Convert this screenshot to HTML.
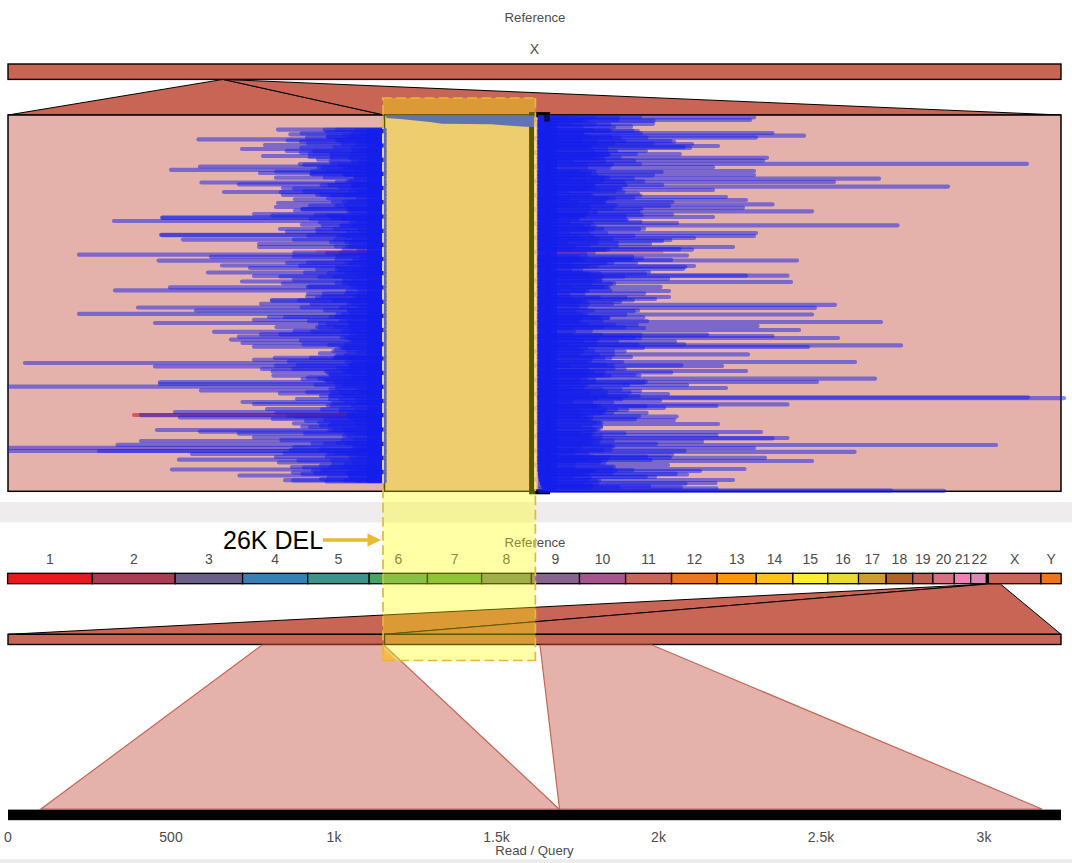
<!DOCTYPE html>
<html><head><meta charset="utf-8"><title>Ribbon - 26K DEL</title>
<style>
html,body{margin:0;padding:0;background:#fff;}
body{width:1072px;height:863px;overflow:hidden;font-family:"Liberation Sans",sans-serif;}
svg{display:block}
.t{font-family:"Liberation Sans",sans-serif;fill:#4c4c4c;text-anchor:middle}
.d{font-size:14px}
.w{font-size:13.2px}
</style></head><body>
<svg width="1072" height="863" viewBox="0 0 1072 863">
<rect width="1072" height="863" fill="#fff"/>
<rect x="0" y="502" width="1072" height="20.5" fill="#eeeced"/>
<rect x="0" y="859" width="1072" height="4" fill="#ececec"/>

<text x="535" y="22" class="t w">Reference</text>
<text x="534.5" y="53.8" class="t d">X</text>

<!-- top reference bar + zoom trapezoids -->
<polygon points="223,79.4 8,115 384,115" fill="#c96555" stroke="#000" stroke-width="1"/>
<polygon points="223,79.4 384,115 1061,115" fill="#c96555" stroke="#000" stroke-width="1"/>
<rect x="8" y="64" width="1053" height="15.4" fill="#c96555" stroke="#000" stroke-width="1.4"/>

<!-- plot boxes -->
<rect x="8" y="115" width="376.5" height="376.3" fill="#e4b2aa" stroke="#000" stroke-width="1.5"/>
<rect x="384.5" y="115" width="676.5" height="376.3" fill="#e4b2aa" stroke="#000" stroke-width="1.5"/>
<rect x="531.6" y="114.6" width="16" height="377.2" fill="none" stroke="#000" stroke-width="5"/>

<!-- reads -->
<g>
<line x1="356.5" x2="384.4" y1="130.0" y2="130.0" stroke="#141eeb" stroke-opacity="0.5" stroke-width="4.2" stroke-linecap="round"/>
<line x1="336.8" x2="384.4" y1="129.9" y2="129.9" stroke="#141eeb" stroke-opacity="0.5" stroke-width="4.2" stroke-linecap="round"/>
<line x1="324.7" x2="384.4" y1="129.9" y2="129.9" stroke="#141eeb" stroke-opacity="0.5" stroke-width="4.2" stroke-linecap="round"/>
<line x1="362.3" x2="384.4" y1="133.7" y2="133.7" stroke="#141eeb" stroke-opacity="0.5" stroke-width="4.2" stroke-linecap="round"/>
<line x1="353.0" x2="384.4" y1="133.3" y2="133.3" stroke="#141eeb" stroke-opacity="0.5" stroke-width="4.2" stroke-linecap="round"/>
<line x1="301.7" x2="384.4" y1="133.3" y2="133.3" stroke="#141eeb" stroke-opacity="0.5" stroke-width="4.2" stroke-linecap="round"/>
<line x1="290.4" x2="384.4" y1="134.3" y2="134.3" stroke="#141eeb" stroke-opacity="0.5" stroke-width="4.2" stroke-linecap="round"/>
<line x1="351.5" x2="384.4" y1="137.1" y2="137.1" stroke="#141eeb" stroke-opacity="0.5" stroke-width="4.2" stroke-linecap="round"/>
<line x1="327.7" x2="384.4" y1="136.7" y2="136.7" stroke="#141eeb" stroke-opacity="0.5" stroke-width="4.2" stroke-linecap="round"/>
<line x1="328.5" x2="384.4" y1="136.8" y2="136.8" stroke="#141eeb" stroke-opacity="0.5" stroke-width="4.2" stroke-linecap="round"/>
<line x1="307.0" x2="384.4" y1="137.6" y2="137.6" stroke="#141eeb" stroke-opacity="0.5" stroke-width="4.2" stroke-linecap="round"/>
<line x1="359.4" x2="384.4" y1="140.7" y2="140.7" stroke="#141eeb" stroke-opacity="0.5" stroke-width="4.2" stroke-linecap="round"/>
<line x1="337.1" x2="384.4" y1="140.4" y2="140.4" stroke="#141eeb" stroke-opacity="0.5" stroke-width="4.2" stroke-linecap="round"/>
<line x1="339.9" x2="384.4" y1="140.1" y2="140.1" stroke="#141eeb" stroke-opacity="0.5" stroke-width="4.2" stroke-linecap="round"/>
<line x1="287.6" x2="384.4" y1="140.5" y2="140.5" stroke="#141eeb" stroke-opacity="0.5" stroke-width="4.2" stroke-linecap="round"/>
<line x1="356.7" x2="384.4" y1="144.1" y2="144.1" stroke="#141eeb" stroke-opacity="0.5" stroke-width="4.2" stroke-linecap="round"/>
<line x1="342.3" x2="384.4" y1="143.8" y2="143.8" stroke="#141eeb" stroke-opacity="0.5" stroke-width="4.2" stroke-linecap="round"/>
<line x1="308.1" x2="384.4" y1="143.7" y2="143.7" stroke="#141eeb" stroke-opacity="0.5" stroke-width="4.2" stroke-linecap="round"/>
<line x1="352.5" x2="384.4" y1="147.9" y2="147.9" stroke="#141eeb" stroke-opacity="0.5" stroke-width="4.2" stroke-linecap="round"/>
<line x1="334.6" x2="384.4" y1="147.1" y2="147.1" stroke="#141eeb" stroke-opacity="0.5" stroke-width="4.2" stroke-linecap="round"/>
<line x1="301.3" x2="384.4" y1="147.7" y2="147.7" stroke="#141eeb" stroke-opacity="0.5" stroke-width="4.2" stroke-linecap="round"/>
<line x1="360.0" x2="384.4" y1="150.8" y2="150.8" stroke="#141eeb" stroke-opacity="0.5" stroke-width="4.2" stroke-linecap="round"/>
<line x1="353.9" x2="384.4" y1="151.0" y2="151.0" stroke="#141eeb" stroke-opacity="0.5" stroke-width="4.2" stroke-linecap="round"/>
<line x1="314.3" x2="384.4" y1="151.3" y2="151.3" stroke="#141eeb" stroke-opacity="0.5" stroke-width="4.2" stroke-linecap="round"/>
<line x1="286.8" x2="384.4" y1="150.9" y2="150.9" stroke="#141eeb" stroke-opacity="0.5" stroke-width="4.2" stroke-linecap="round"/>
<line x1="351.4" x2="384.4" y1="154.1" y2="154.1" stroke="#141eeb" stroke-opacity="0.5" stroke-width="4.2" stroke-linecap="round"/>
<line x1="331.5" x2="384.4" y1="154.7" y2="154.7" stroke="#141eeb" stroke-opacity="0.5" stroke-width="4.2" stroke-linecap="round"/>
<line x1="309.8" x2="384.4" y1="153.7" y2="153.7" stroke="#141eeb" stroke-opacity="0.5" stroke-width="4.2" stroke-linecap="round"/>
<line x1="350.1" x2="384.4" y1="158.2" y2="158.2" stroke="#141eeb" stroke-opacity="0.5" stroke-width="4.2" stroke-linecap="round"/>
<line x1="332.0" x2="384.4" y1="157.3" y2="157.3" stroke="#141eeb" stroke-opacity="0.5" stroke-width="4.2" stroke-linecap="round"/>
<line x1="309.6" x2="384.4" y1="157.0" y2="157.0" stroke="#141eeb" stroke-opacity="0.5" stroke-width="4.2" stroke-linecap="round"/>
<line x1="359.6" x2="384.4" y1="160.5" y2="160.5" stroke="#141eeb" stroke-opacity="0.5" stroke-width="4.2" stroke-linecap="round"/>
<line x1="353.3" x2="384.4" y1="161.3" y2="161.3" stroke="#141eeb" stroke-opacity="0.5" stroke-width="4.2" stroke-linecap="round"/>
<line x1="330.6" x2="384.4" y1="160.9" y2="160.9" stroke="#141eeb" stroke-opacity="0.5" stroke-width="4.2" stroke-linecap="round"/>
<line x1="361.4" x2="384.4" y1="164.3" y2="164.3" stroke="#141eeb" stroke-opacity="0.5" stroke-width="4.2" stroke-linecap="round"/>
<line x1="339.6" x2="384.4" y1="164.9" y2="164.9" stroke="#141eeb" stroke-opacity="0.5" stroke-width="4.2" stroke-linecap="round"/>
<line x1="299.8" x2="384.4" y1="164.1" y2="164.1" stroke="#141eeb" stroke-opacity="0.5" stroke-width="4.2" stroke-linecap="round"/>
<line x1="304.3" x2="384.4" y1="164.9" y2="164.9" stroke="#141eeb" stroke-opacity="0.5" stroke-width="4.2" stroke-linecap="round"/>
<line x1="343.8" x2="384.4" y1="167.4" y2="167.4" stroke="#141eeb" stroke-opacity="0.5" stroke-width="4.2" stroke-linecap="round"/>
<line x1="350.1" x2="384.4" y1="167.5" y2="167.5" stroke="#141eeb" stroke-opacity="0.5" stroke-width="4.2" stroke-linecap="round"/>
<line x1="318.8" x2="384.4" y1="167.9" y2="167.9" stroke="#141eeb" stroke-opacity="0.5" stroke-width="4.2" stroke-linecap="round"/>
<line x1="322.8" x2="384.4" y1="167.7" y2="167.7" stroke="#141eeb" stroke-opacity="0.5" stroke-width="4.2" stroke-linecap="round"/>
<line x1="355.6" x2="384.4" y1="171.3" y2="171.3" stroke="#141eeb" stroke-opacity="0.5" stroke-width="4.2" stroke-linecap="round"/>
<line x1="328.3" x2="384.4" y1="171.4" y2="171.4" stroke="#141eeb" stroke-opacity="0.5" stroke-width="4.2" stroke-linecap="round"/>
<line x1="312.1" x2="384.4" y1="171.4" y2="171.4" stroke="#141eeb" stroke-opacity="0.5" stroke-width="4.2" stroke-linecap="round"/>
<line x1="276.2" x2="384.4" y1="171.5" y2="171.5" stroke="#141eeb" stroke-opacity="0.5" stroke-width="4.2" stroke-linecap="round"/>
<line x1="345.5" x2="384.4" y1="175.0" y2="175.0" stroke="#141eeb" stroke-opacity="0.5" stroke-width="4.2" stroke-linecap="round"/>
<line x1="344.0" x2="384.4" y1="174.5" y2="174.5" stroke="#141eeb" stroke-opacity="0.5" stroke-width="4.2" stroke-linecap="round"/>
<line x1="311.3" x2="384.4" y1="174.1" y2="174.1" stroke="#141eeb" stroke-opacity="0.5" stroke-width="4.2" stroke-linecap="round"/>
<line x1="312.1" x2="384.4" y1="174.2" y2="174.2" stroke="#141eeb" stroke-opacity="0.5" stroke-width="4.2" stroke-linecap="round"/>
<line x1="356.2" x2="384.4" y1="177.5" y2="177.5" stroke="#141eeb" stroke-opacity="0.5" stroke-width="4.2" stroke-linecap="round"/>
<line x1="355.0" x2="384.4" y1="177.6" y2="177.6" stroke="#141eeb" stroke-opacity="0.5" stroke-width="4.2" stroke-linecap="round"/>
<line x1="324.8" x2="384.4" y1="177.4" y2="177.4" stroke="#141eeb" stroke-opacity="0.5" stroke-width="4.2" stroke-linecap="round"/>
<line x1="350.7" x2="384.4" y1="181.0" y2="181.0" stroke="#141eeb" stroke-opacity="0.5" stroke-width="4.2" stroke-linecap="round"/>
<line x1="347.9" x2="384.4" y1="181.2" y2="181.2" stroke="#141eeb" stroke-opacity="0.5" stroke-width="4.2" stroke-linecap="round"/>
<line x1="336.9" x2="384.4" y1="181.8" y2="181.8" stroke="#141eeb" stroke-opacity="0.5" stroke-width="4.2" stroke-linecap="round"/>
<line x1="353.7" x2="384.4" y1="184.8" y2="184.8" stroke="#141eeb" stroke-opacity="0.5" stroke-width="4.2" stroke-linecap="round"/>
<line x1="352.6" x2="384.4" y1="184.3" y2="184.3" stroke="#141eeb" stroke-opacity="0.5" stroke-width="4.2" stroke-linecap="round"/>
<line x1="329.8" x2="384.4" y1="185.2" y2="185.2" stroke="#141eeb" stroke-opacity="0.5" stroke-width="4.2" stroke-linecap="round"/>
<line x1="321.8" x2="384.4" y1="185.3" y2="185.3" stroke="#141eeb" stroke-opacity="0.5" stroke-width="4.2" stroke-linecap="round"/>
<line x1="352.4" x2="384.4" y1="187.8" y2="187.8" stroke="#141eeb" stroke-opacity="0.5" stroke-width="4.2" stroke-linecap="round"/>
<line x1="339.8" x2="384.4" y1="187.6" y2="187.6" stroke="#141eeb" stroke-opacity="0.5" stroke-width="4.2" stroke-linecap="round"/>
<line x1="294.1" x2="384.4" y1="188.6" y2="188.6" stroke="#141eeb" stroke-opacity="0.5" stroke-width="4.2" stroke-linecap="round"/>
<line x1="357.8" x2="384.4" y1="191.4" y2="191.4" stroke="#141eeb" stroke-opacity="0.5" stroke-width="4.2" stroke-linecap="round"/>
<line x1="350.3" x2="384.4" y1="191.9" y2="191.9" stroke="#141eeb" stroke-opacity="0.5" stroke-width="4.2" stroke-linecap="round"/>
<line x1="304.0" x2="384.4" y1="191.4" y2="191.4" stroke="#141eeb" stroke-opacity="0.5" stroke-width="4.2" stroke-linecap="round"/>
<line x1="280.8" x2="384.4" y1="192.2" y2="192.2" stroke="#141eeb" stroke-opacity="0.5" stroke-width="4.2" stroke-linecap="round"/>
<line x1="345.9" x2="384.4" y1="195.4" y2="195.4" stroke="#141eeb" stroke-opacity="0.5" stroke-width="4.2" stroke-linecap="round"/>
<line x1="332.1" x2="384.4" y1="195.3" y2="195.3" stroke="#141eeb" stroke-opacity="0.5" stroke-width="4.2" stroke-linecap="round"/>
<line x1="317.1" x2="384.4" y1="194.8" y2="194.8" stroke="#141eeb" stroke-opacity="0.5" stroke-width="4.2" stroke-linecap="round"/>
<line x1="321.5" x2="384.4" y1="194.7" y2="194.7" stroke="#141eeb" stroke-opacity="0.5" stroke-width="4.2" stroke-linecap="round"/>
<line x1="357.8" x2="384.4" y1="198.6" y2="198.6" stroke="#141eeb" stroke-opacity="0.5" stroke-width="4.2" stroke-linecap="round"/>
<line x1="328.2" x2="384.4" y1="198.3" y2="198.3" stroke="#141eeb" stroke-opacity="0.5" stroke-width="4.2" stroke-linecap="round"/>
<line x1="343.9" x2="384.4" y1="201.6" y2="201.6" stroke="#141eeb" stroke-opacity="0.5" stroke-width="4.2" stroke-linecap="round"/>
<line x1="348.8" x2="384.4" y1="201.5" y2="201.5" stroke="#141eeb" stroke-opacity="0.5" stroke-width="4.2" stroke-linecap="round"/>
<line x1="332.8" x2="384.4" y1="201.9" y2="201.9" stroke="#141eeb" stroke-opacity="0.5" stroke-width="4.2" stroke-linecap="round"/>
<line x1="346.2" x2="384.4" y1="205.2" y2="205.2" stroke="#141eeb" stroke-opacity="0.5" stroke-width="4.2" stroke-linecap="round"/>
<line x1="336.7" x2="384.4" y1="205.6" y2="205.6" stroke="#141eeb" stroke-opacity="0.5" stroke-width="4.2" stroke-linecap="round"/>
<line x1="310.0" x2="384.4" y1="205.7" y2="205.7" stroke="#141eeb" stroke-opacity="0.5" stroke-width="4.2" stroke-linecap="round"/>
<line x1="348.0" x2="384.4" y1="208.6" y2="208.6" stroke="#141eeb" stroke-opacity="0.5" stroke-width="4.2" stroke-linecap="round"/>
<line x1="350.0" x2="384.4" y1="208.9" y2="208.9" stroke="#141eeb" stroke-opacity="0.5" stroke-width="4.2" stroke-linecap="round"/>
<line x1="303.0" x2="384.4" y1="209.2" y2="209.2" stroke="#141eeb" stroke-opacity="0.5" stroke-width="4.2" stroke-linecap="round"/>
<line x1="302.1" x2="384.4" y1="209.1" y2="209.1" stroke="#141eeb" stroke-opacity="0.5" stroke-width="4.2" stroke-linecap="round"/>
<line x1="348.5" x2="384.4" y1="211.6" y2="211.6" stroke="#141eeb" stroke-opacity="0.5" stroke-width="4.2" stroke-linecap="round"/>
<line x1="351.4" x2="384.4" y1="211.6" y2="211.6" stroke="#141eeb" stroke-opacity="0.5" stroke-width="4.2" stroke-linecap="round"/>
<line x1="360.1" x2="384.4" y1="215.8" y2="215.8" stroke="#141eeb" stroke-opacity="0.5" stroke-width="4.2" stroke-linecap="round"/>
<line x1="327.6" x2="384.4" y1="215.6" y2="215.6" stroke="#141eeb" stroke-opacity="0.5" stroke-width="4.2" stroke-linecap="round"/>
<line x1="315.6" x2="384.4" y1="215.0" y2="215.0" stroke="#141eeb" stroke-opacity="0.5" stroke-width="4.2" stroke-linecap="round"/>
<line x1="272.5" x2="384.4" y1="215.6" y2="215.6" stroke="#141eeb" stroke-opacity="0.5" stroke-width="4.2" stroke-linecap="round"/>
<line x1="352.5" x2="384.4" y1="219.3" y2="219.3" stroke="#141eeb" stroke-opacity="0.5" stroke-width="4.2" stroke-linecap="round"/>
<line x1="342.9" x2="384.4" y1="219.2" y2="219.2" stroke="#141eeb" stroke-opacity="0.5" stroke-width="4.2" stroke-linecap="round"/>
<line x1="332.4" x2="384.4" y1="218.5" y2="218.5" stroke="#141eeb" stroke-opacity="0.5" stroke-width="4.2" stroke-linecap="round"/>
<line x1="310.5" x2="384.4" y1="218.9" y2="218.9" stroke="#141eeb" stroke-opacity="0.5" stroke-width="4.2" stroke-linecap="round"/>
<line x1="357.8" x2="384.4" y1="222.1" y2="222.1" stroke="#141eeb" stroke-opacity="0.5" stroke-width="4.2" stroke-linecap="round"/>
<line x1="351.3" x2="384.4" y1="222.7" y2="222.7" stroke="#141eeb" stroke-opacity="0.5" stroke-width="4.2" stroke-linecap="round"/>
<line x1="320.1" x2="384.4" y1="222.3" y2="222.3" stroke="#141eeb" stroke-opacity="0.5" stroke-width="4.2" stroke-linecap="round"/>
<line x1="354.6" x2="384.4" y1="226.1" y2="226.1" stroke="#141eeb" stroke-opacity="0.5" stroke-width="4.2" stroke-linecap="round"/>
<line x1="341.0" x2="384.4" y1="225.6" y2="225.6" stroke="#141eeb" stroke-opacity="0.5" stroke-width="4.2" stroke-linecap="round"/>
<line x1="342.1" x2="384.4" y1="225.5" y2="225.5" stroke="#141eeb" stroke-opacity="0.5" stroke-width="4.2" stroke-linecap="round"/>
<line x1="322.8" x2="384.4" y1="226.0" y2="226.0" stroke="#141eeb" stroke-opacity="0.5" stroke-width="4.2" stroke-linecap="round"/>
<line x1="359.6" x2="384.4" y1="229.0" y2="229.0" stroke="#141eeb" stroke-opacity="0.5" stroke-width="4.2" stroke-linecap="round"/>
<line x1="334.7" x2="384.4" y1="229.1" y2="229.1" stroke="#141eeb" stroke-opacity="0.5" stroke-width="4.2" stroke-linecap="round"/>
<line x1="317.1" x2="384.4" y1="229.1" y2="229.1" stroke="#141eeb" stroke-opacity="0.5" stroke-width="4.2" stroke-linecap="round"/>
<line x1="360.9" x2="384.4" y1="232.5" y2="232.5" stroke="#141eeb" stroke-opacity="0.5" stroke-width="4.2" stroke-linecap="round"/>
<line x1="348.0" x2="384.4" y1="232.1" y2="232.1" stroke="#141eeb" stroke-opacity="0.5" stroke-width="4.2" stroke-linecap="round"/>
<line x1="317.6" x2="384.4" y1="232.5" y2="232.5" stroke="#141eeb" stroke-opacity="0.5" stroke-width="4.2" stroke-linecap="round"/>
<line x1="344.8" x2="384.4" y1="235.7" y2="235.7" stroke="#141eeb" stroke-opacity="0.5" stroke-width="4.2" stroke-linecap="round"/>
<line x1="337.8" x2="384.4" y1="235.8" y2="235.8" stroke="#141eeb" stroke-opacity="0.5" stroke-width="4.2" stroke-linecap="round"/>
<line x1="308.4" x2="384.4" y1="235.7" y2="235.7" stroke="#141eeb" stroke-opacity="0.5" stroke-width="4.2" stroke-linecap="round"/>
<line x1="353.4" x2="384.4" y1="239.7" y2="239.7" stroke="#141eeb" stroke-opacity="0.5" stroke-width="4.2" stroke-linecap="round"/>
<line x1="335.4" x2="384.4" y1="239.7" y2="239.7" stroke="#141eeb" stroke-opacity="0.5" stroke-width="4.2" stroke-linecap="round"/>
<line x1="293.9" x2="384.4" y1="239.7" y2="239.7" stroke="#141eeb" stroke-opacity="0.5" stroke-width="4.2" stroke-linecap="round"/>
<line x1="346.2" x2="384.4" y1="242.2" y2="242.2" stroke="#141eeb" stroke-opacity="0.5" stroke-width="4.2" stroke-linecap="round"/>
<line x1="351.6" x2="384.4" y1="242.5" y2="242.5" stroke="#141eeb" stroke-opacity="0.5" stroke-width="4.2" stroke-linecap="round"/>
<line x1="331.0" x2="384.4" y1="242.1" y2="242.1" stroke="#141eeb" stroke-opacity="0.5" stroke-width="4.2" stroke-linecap="round"/>
<line x1="347.3" x2="384.4" y1="246.5" y2="246.5" stroke="#141eeb" stroke-opacity="0.5" stroke-width="4.2" stroke-linecap="round"/>
<line x1="350.7" x2="384.4" y1="246.3" y2="246.3" stroke="#141eeb" stroke-opacity="0.5" stroke-width="4.2" stroke-linecap="round"/>
<line x1="335.9" x2="384.4" y1="246.5" y2="246.5" stroke="#141eeb" stroke-opacity="0.5" stroke-width="4.2" stroke-linecap="round"/>
<line x1="358.6" x2="384.4" y1="249.9" y2="249.9" stroke="#141eeb" stroke-opacity="0.5" stroke-width="4.2" stroke-linecap="round"/>
<line x1="343.8" x2="384.4" y1="249.4" y2="249.4" stroke="#141eeb" stroke-opacity="0.5" stroke-width="4.2" stroke-linecap="round"/>
<line x1="359.8" x2="384.4" y1="252.7" y2="252.7" stroke="#141eeb" stroke-opacity="0.5" stroke-width="4.2" stroke-linecap="round"/>
<line x1="340.6" x2="384.4" y1="252.6" y2="252.6" stroke="#141eeb" stroke-opacity="0.5" stroke-width="4.2" stroke-linecap="round"/>
<line x1="327.1" x2="384.4" y1="253.1" y2="253.1" stroke="#141eeb" stroke-opacity="0.5" stroke-width="4.2" stroke-linecap="round"/>
<line x1="294.2" x2="384.4" y1="252.7" y2="252.7" stroke="#141eeb" stroke-opacity="0.5" stroke-width="4.2" stroke-linecap="round"/>
<line x1="362.6" x2="384.4" y1="256.0" y2="256.0" stroke="#141eeb" stroke-opacity="0.5" stroke-width="4.2" stroke-linecap="round"/>
<line x1="337.5" x2="384.4" y1="256.2" y2="256.2" stroke="#141eeb" stroke-opacity="0.5" stroke-width="4.2" stroke-linecap="round"/>
<line x1="293.7" x2="384.4" y1="256.5" y2="256.5" stroke="#141eeb" stroke-opacity="0.5" stroke-width="4.2" stroke-linecap="round"/>
<line x1="360.9" x2="384.4" y1="259.3" y2="259.3" stroke="#141eeb" stroke-opacity="0.5" stroke-width="4.2" stroke-linecap="round"/>
<line x1="353.9" x2="384.4" y1="259.9" y2="259.9" stroke="#141eeb" stroke-opacity="0.5" stroke-width="4.2" stroke-linecap="round"/>
<line x1="336.5" x2="384.4" y1="259.5" y2="259.5" stroke="#141eeb" stroke-opacity="0.5" stroke-width="4.2" stroke-linecap="round"/>
<line x1="346.6" x2="384.4" y1="262.7" y2="262.7" stroke="#141eeb" stroke-opacity="0.5" stroke-width="4.2" stroke-linecap="round"/>
<line x1="350.8" x2="384.4" y1="263.5" y2="263.5" stroke="#141eeb" stroke-opacity="0.5" stroke-width="4.2" stroke-linecap="round"/>
<line x1="308.0" x2="384.4" y1="262.5" y2="262.5" stroke="#141eeb" stroke-opacity="0.5" stroke-width="4.2" stroke-linecap="round"/>
<line x1="287.2" x2="384.4" y1="262.9" y2="262.9" stroke="#141eeb" stroke-opacity="0.5" stroke-width="4.2" stroke-linecap="round"/>
<line x1="361.6" x2="384.4" y1="266.9" y2="266.9" stroke="#141eeb" stroke-opacity="0.5" stroke-width="4.2" stroke-linecap="round"/>
<line x1="337.2" x2="384.4" y1="266.8" y2="266.8" stroke="#141eeb" stroke-opacity="0.5" stroke-width="4.2" stroke-linecap="round"/>
<line x1="300.2" x2="384.4" y1="265.9" y2="265.9" stroke="#141eeb" stroke-opacity="0.5" stroke-width="4.2" stroke-linecap="round"/>
<line x1="353.9" x2="384.4" y1="269.6" y2="269.6" stroke="#141eeb" stroke-opacity="0.5" stroke-width="4.2" stroke-linecap="round"/>
<line x1="339.5" x2="384.4" y1="270.3" y2="270.3" stroke="#141eeb" stroke-opacity="0.5" stroke-width="4.2" stroke-linecap="round"/>
<line x1="336.5" x2="384.4" y1="269.8" y2="269.8" stroke="#141eeb" stroke-opacity="0.5" stroke-width="4.2" stroke-linecap="round"/>
<line x1="317.3" x2="384.4" y1="269.4" y2="269.4" stroke="#141eeb" stroke-opacity="0.5" stroke-width="4.2" stroke-linecap="round"/>
<line x1="362.0" x2="384.4" y1="272.8" y2="272.8" stroke="#141eeb" stroke-opacity="0.5" stroke-width="4.2" stroke-linecap="round"/>
<line x1="346.3" x2="384.4" y1="273.0" y2="273.0" stroke="#141eeb" stroke-opacity="0.5" stroke-width="4.2" stroke-linecap="round"/>
<line x1="328.5" x2="384.4" y1="273.2" y2="273.2" stroke="#141eeb" stroke-opacity="0.5" stroke-width="4.2" stroke-linecap="round"/>
<line x1="305.0" x2="384.4" y1="272.6" y2="272.6" stroke="#141eeb" stroke-opacity="0.5" stroke-width="4.2" stroke-linecap="round"/>
<line x1="358.0" x2="384.4" y1="276.0" y2="276.0" stroke="#141eeb" stroke-opacity="0.5" stroke-width="4.2" stroke-linecap="round"/>
<line x1="334.5" x2="384.4" y1="276.7" y2="276.7" stroke="#141eeb" stroke-opacity="0.5" stroke-width="4.2" stroke-linecap="round"/>
<line x1="319.3" x2="384.4" y1="277.1" y2="277.1" stroke="#141eeb" stroke-opacity="0.5" stroke-width="4.2" stroke-linecap="round"/>
<line x1="280.4" x2="384.4" y1="276.5" y2="276.5" stroke="#141eeb" stroke-opacity="0.5" stroke-width="4.2" stroke-linecap="round"/>
<line x1="353.1" x2="384.4" y1="280.4" y2="280.4" stroke="#141eeb" stroke-opacity="0.5" stroke-width="4.2" stroke-linecap="round"/>
<line x1="344.0" x2="384.4" y1="280.0" y2="280.0" stroke="#141eeb" stroke-opacity="0.5" stroke-width="4.2" stroke-linecap="round"/>
<line x1="293.9" x2="384.4" y1="279.8" y2="279.8" stroke="#141eeb" stroke-opacity="0.5" stroke-width="4.2" stroke-linecap="round"/>
<line x1="348.9" x2="384.4" y1="283.6" y2="283.6" stroke="#141eeb" stroke-opacity="0.5" stroke-width="4.2" stroke-linecap="round"/>
<line x1="343.7" x2="384.4" y1="283.2" y2="283.2" stroke="#141eeb" stroke-opacity="0.5" stroke-width="4.2" stroke-linecap="round"/>
<line x1="336.5" x2="384.4" y1="282.9" y2="282.9" stroke="#141eeb" stroke-opacity="0.5" stroke-width="4.2" stroke-linecap="round"/>
<line x1="357.9" x2="384.4" y1="286.4" y2="286.4" stroke="#141eeb" stroke-opacity="0.5" stroke-width="4.2" stroke-linecap="round"/>
<line x1="352.6" x2="384.4" y1="287.2" y2="287.2" stroke="#141eeb" stroke-opacity="0.5" stroke-width="4.2" stroke-linecap="round"/>
<line x1="309.5" x2="384.4" y1="286.5" y2="286.5" stroke="#141eeb" stroke-opacity="0.5" stroke-width="4.2" stroke-linecap="round"/>
<line x1="307.8" x2="384.4" y1="286.8" y2="286.8" stroke="#141eeb" stroke-opacity="0.5" stroke-width="4.2" stroke-linecap="round"/>
<line x1="359.8" x2="384.4" y1="290.1" y2="290.1" stroke="#141eeb" stroke-opacity="0.5" stroke-width="4.2" stroke-linecap="round"/>
<line x1="347.6" x2="384.4" y1="290.8" y2="290.8" stroke="#141eeb" stroke-opacity="0.5" stroke-width="4.2" stroke-linecap="round"/>
<line x1="358.1" x2="384.4" y1="294.2" y2="294.2" stroke="#141eeb" stroke-opacity="0.5" stroke-width="4.2" stroke-linecap="round"/>
<line x1="346.3" x2="384.4" y1="293.4" y2="293.4" stroke="#141eeb" stroke-opacity="0.5" stroke-width="4.2" stroke-linecap="round"/>
<line x1="323.9" x2="384.4" y1="293.6" y2="293.6" stroke="#141eeb" stroke-opacity="0.5" stroke-width="4.2" stroke-linecap="round"/>
<line x1="359.0" x2="384.4" y1="297.0" y2="297.0" stroke="#141eeb" stroke-opacity="0.5" stroke-width="4.2" stroke-linecap="round"/>
<line x1="354.9" x2="384.4" y1="296.7" y2="296.7" stroke="#141eeb" stroke-opacity="0.5" stroke-width="4.2" stroke-linecap="round"/>
<line x1="323.0" x2="384.4" y1="296.5" y2="296.5" stroke="#141eeb" stroke-opacity="0.5" stroke-width="4.2" stroke-linecap="round"/>
<line x1="307.2" x2="384.4" y1="296.7" y2="296.7" stroke="#141eeb" stroke-opacity="0.5" stroke-width="4.2" stroke-linecap="round"/>
<line x1="351.3" x2="384.4" y1="300.4" y2="300.4" stroke="#141eeb" stroke-opacity="0.5" stroke-width="4.2" stroke-linecap="round"/>
<line x1="334.0" x2="384.4" y1="300.6" y2="300.6" stroke="#141eeb" stroke-opacity="0.5" stroke-width="4.2" stroke-linecap="round"/>
<line x1="299.0" x2="384.4" y1="300.3" y2="300.3" stroke="#141eeb" stroke-opacity="0.5" stroke-width="4.2" stroke-linecap="round"/>
<line x1="271.8" x2="384.4" y1="300.0" y2="300.0" stroke="#141eeb" stroke-opacity="0.5" stroke-width="4.2" stroke-linecap="round"/>
<line x1="348.5" x2="384.4" y1="304.0" y2="304.0" stroke="#141eeb" stroke-opacity="0.5" stroke-width="4.2" stroke-linecap="round"/>
<line x1="353.8" x2="384.4" y1="304.2" y2="304.2" stroke="#141eeb" stroke-opacity="0.5" stroke-width="4.2" stroke-linecap="round"/>
<line x1="311.6" x2="384.4" y1="304.1" y2="304.1" stroke="#141eeb" stroke-opacity="0.5" stroke-width="4.2" stroke-linecap="round"/>
<line x1="360.2" x2="384.4" y1="307.2" y2="307.2" stroke="#141eeb" stroke-opacity="0.5" stroke-width="4.2" stroke-linecap="round"/>
<line x1="340.9" x2="384.4" y1="307.6" y2="307.6" stroke="#141eeb" stroke-opacity="0.5" stroke-width="4.2" stroke-linecap="round"/>
<line x1="301.7" x2="384.4" y1="307.3" y2="307.3" stroke="#141eeb" stroke-opacity="0.5" stroke-width="4.2" stroke-linecap="round"/>
<line x1="349.3" x2="384.4" y1="310.8" y2="310.8" stroke="#141eeb" stroke-opacity="0.5" stroke-width="4.2" stroke-linecap="round"/>
<line x1="348.6" x2="384.4" y1="310.0" y2="310.0" stroke="#141eeb" stroke-opacity="0.5" stroke-width="4.2" stroke-linecap="round"/>
<line x1="325.0" x2="384.4" y1="310.1" y2="310.1" stroke="#141eeb" stroke-opacity="0.5" stroke-width="4.2" stroke-linecap="round"/>
<line x1="351.8" x2="384.4" y1="314.2" y2="314.2" stroke="#141eeb" stroke-opacity="0.5" stroke-width="4.2" stroke-linecap="round"/>
<line x1="337.5" x2="384.4" y1="314.2" y2="314.2" stroke="#141eeb" stroke-opacity="0.5" stroke-width="4.2" stroke-linecap="round"/>
<line x1="342.8" x2="384.4" y1="314.4" y2="314.4" stroke="#141eeb" stroke-opacity="0.5" stroke-width="4.2" stroke-linecap="round"/>
<line x1="352.9" x2="384.4" y1="317.4" y2="317.4" stroke="#141eeb" stroke-opacity="0.5" stroke-width="4.2" stroke-linecap="round"/>
<line x1="336.5" x2="384.4" y1="316.9" y2="316.9" stroke="#141eeb" stroke-opacity="0.5" stroke-width="4.2" stroke-linecap="round"/>
<line x1="330.4" x2="384.4" y1="316.9" y2="316.9" stroke="#141eeb" stroke-opacity="0.5" stroke-width="4.2" stroke-linecap="round"/>
<line x1="285.1" x2="384.4" y1="317.0" y2="317.0" stroke="#141eeb" stroke-opacity="0.5" stroke-width="4.2" stroke-linecap="round"/>
<line x1="348.2" x2="384.4" y1="321.4" y2="321.4" stroke="#141eeb" stroke-opacity="0.5" stroke-width="4.2" stroke-linecap="round"/>
<line x1="341.2" x2="384.4" y1="320.7" y2="320.7" stroke="#141eeb" stroke-opacity="0.5" stroke-width="4.2" stroke-linecap="round"/>
<line x1="308.8" x2="384.4" y1="321.1" y2="321.1" stroke="#141eeb" stroke-opacity="0.5" stroke-width="4.2" stroke-linecap="round"/>
<line x1="350.1" x2="384.4" y1="323.7" y2="323.7" stroke="#141eeb" stroke-opacity="0.5" stroke-width="4.2" stroke-linecap="round"/>
<line x1="350.9" x2="384.4" y1="323.9" y2="323.9" stroke="#141eeb" stroke-opacity="0.5" stroke-width="4.2" stroke-linecap="round"/>
<line x1="327.8" x2="384.4" y1="324.3" y2="324.3" stroke="#141eeb" stroke-opacity="0.5" stroke-width="4.2" stroke-linecap="round"/>
<line x1="319.8" x2="384.4" y1="323.9" y2="323.9" stroke="#141eeb" stroke-opacity="0.5" stroke-width="4.2" stroke-linecap="round"/>
<line x1="349.6" x2="384.4" y1="327.8" y2="327.8" stroke="#141eeb" stroke-opacity="0.5" stroke-width="4.2" stroke-linecap="round"/>
<line x1="336.1" x2="384.4" y1="327.3" y2="327.3" stroke="#141eeb" stroke-opacity="0.5" stroke-width="4.2" stroke-linecap="round"/>
<line x1="319.8" x2="384.4" y1="327.6" y2="327.6" stroke="#141eeb" stroke-opacity="0.5" stroke-width="4.2" stroke-linecap="round"/>
<line x1="276.5" x2="384.4" y1="327.2" y2="327.2" stroke="#141eeb" stroke-opacity="0.5" stroke-width="4.2" stroke-linecap="round"/>
<line x1="343.4" x2="384.4" y1="331.5" y2="331.5" stroke="#141eeb" stroke-opacity="0.5" stroke-width="4.2" stroke-linecap="round"/>
<line x1="354.5" x2="384.4" y1="331.0" y2="331.0" stroke="#141eeb" stroke-opacity="0.5" stroke-width="4.2" stroke-linecap="round"/>
<line x1="294.6" x2="384.4" y1="330.9" y2="330.9" stroke="#141eeb" stroke-opacity="0.5" stroke-width="4.2" stroke-linecap="round"/>
<line x1="312.1" x2="384.4" y1="331.5" y2="331.5" stroke="#141eeb" stroke-opacity="0.5" stroke-width="4.2" stroke-linecap="round"/>
<line x1="358.8" x2="384.4" y1="334.5" y2="334.5" stroke="#141eeb" stroke-opacity="0.5" stroke-width="4.2" stroke-linecap="round"/>
<line x1="351.0" x2="384.4" y1="334.4" y2="334.4" stroke="#141eeb" stroke-opacity="0.5" stroke-width="4.2" stroke-linecap="round"/>
<line x1="280.3" x2="384.4" y1="334.4" y2="334.4" stroke="#141eeb" stroke-opacity="0.5" stroke-width="4.2" stroke-linecap="round"/>
<line x1="345.3" x2="384.4" y1="338.0" y2="338.0" stroke="#141eeb" stroke-opacity="0.5" stroke-width="4.2" stroke-linecap="round"/>
<line x1="348.5" x2="384.4" y1="338.3" y2="338.3" stroke="#141eeb" stroke-opacity="0.5" stroke-width="4.2" stroke-linecap="round"/>
<line x1="341.8" x2="384.4" y1="337.2" y2="337.2" stroke="#141eeb" stroke-opacity="0.5" stroke-width="4.2" stroke-linecap="round"/>
<line x1="354.0" x2="384.4" y1="341.0" y2="341.0" stroke="#141eeb" stroke-opacity="0.5" stroke-width="4.2" stroke-linecap="round"/>
<line x1="351.1" x2="384.4" y1="341.0" y2="341.0" stroke="#141eeb" stroke-opacity="0.5" stroke-width="4.2" stroke-linecap="round"/>
<line x1="301.0" x2="384.4" y1="340.6" y2="340.6" stroke="#141eeb" stroke-opacity="0.5" stroke-width="4.2" stroke-linecap="round"/>
<line x1="346.2" x2="384.4" y1="344.1" y2="344.1" stroke="#141eeb" stroke-opacity="0.5" stroke-width="4.2" stroke-linecap="round"/>
<line x1="329.1" x2="384.4" y1="344.9" y2="344.9" stroke="#141eeb" stroke-opacity="0.5" stroke-width="4.2" stroke-linecap="round"/>
<line x1="303.6" x2="384.4" y1="344.5" y2="344.5" stroke="#141eeb" stroke-opacity="0.5" stroke-width="4.2" stroke-linecap="round"/>
<line x1="343.0" x2="384.4" y1="348.1" y2="348.1" stroke="#141eeb" stroke-opacity="0.5" stroke-width="4.2" stroke-linecap="round"/>
<line x1="344.9" x2="384.4" y1="347.9" y2="347.9" stroke="#141eeb" stroke-opacity="0.5" stroke-width="4.2" stroke-linecap="round"/>
<line x1="340.6" x2="384.4" y1="347.5" y2="347.5" stroke="#141eeb" stroke-opacity="0.5" stroke-width="4.2" stroke-linecap="round"/>
<line x1="357.3" x2="384.4" y1="351.9" y2="351.9" stroke="#141eeb" stroke-opacity="0.5" stroke-width="4.2" stroke-linecap="round"/>
<line x1="348.0" x2="384.4" y1="351.1" y2="351.1" stroke="#141eeb" stroke-opacity="0.5" stroke-width="4.2" stroke-linecap="round"/>
<line x1="333.5" x2="384.4" y1="351.2" y2="351.2" stroke="#141eeb" stroke-opacity="0.5" stroke-width="4.2" stroke-linecap="round"/>
<line x1="345.3" x2="384.4" y1="355.2" y2="355.2" stroke="#141eeb" stroke-opacity="0.5" stroke-width="4.2" stroke-linecap="round"/>
<line x1="337.3" x2="384.4" y1="355.3" y2="355.3" stroke="#141eeb" stroke-opacity="0.5" stroke-width="4.2" stroke-linecap="round"/>
<line x1="348.6" x2="384.4" y1="357.7" y2="357.7" stroke="#141eeb" stroke-opacity="0.5" stroke-width="4.2" stroke-linecap="round"/>
<line x1="334.5" x2="384.4" y1="358.1" y2="358.1" stroke="#141eeb" stroke-opacity="0.5" stroke-width="4.2" stroke-linecap="round"/>
<line x1="310.8" x2="384.4" y1="357.9" y2="357.9" stroke="#141eeb" stroke-opacity="0.5" stroke-width="4.2" stroke-linecap="round"/>
<line x1="274.8" x2="384.4" y1="357.8" y2="357.8" stroke="#141eeb" stroke-opacity="0.5" stroke-width="4.2" stroke-linecap="round"/>
<line x1="353.6" x2="384.4" y1="361.4" y2="361.4" stroke="#141eeb" stroke-opacity="0.5" stroke-width="4.2" stroke-linecap="round"/>
<line x1="346.7" x2="384.4" y1="361.9" y2="361.9" stroke="#141eeb" stroke-opacity="0.5" stroke-width="4.2" stroke-linecap="round"/>
<line x1="288.9" x2="384.4" y1="361.4" y2="361.4" stroke="#141eeb" stroke-opacity="0.5" stroke-width="4.2" stroke-linecap="round"/>
<line x1="351.9" x2="384.4" y1="364.9" y2="364.9" stroke="#141eeb" stroke-opacity="0.5" stroke-width="4.2" stroke-linecap="round"/>
<line x1="350.3" x2="384.4" y1="364.6" y2="364.6" stroke="#141eeb" stroke-opacity="0.5" stroke-width="4.2" stroke-linecap="round"/>
<line x1="297.7" x2="384.4" y1="365.0" y2="365.0" stroke="#141eeb" stroke-opacity="0.5" stroke-width="4.2" stroke-linecap="round"/>
<line x1="275.9" x2="384.4" y1="365.6" y2="365.6" stroke="#141eeb" stroke-opacity="0.5" stroke-width="4.2" stroke-linecap="round"/>
<line x1="354.0" x2="384.4" y1="368.0" y2="368.0" stroke="#141eeb" stroke-opacity="0.5" stroke-width="4.2" stroke-linecap="round"/>
<line x1="349.6" x2="384.4" y1="367.9" y2="367.9" stroke="#141eeb" stroke-opacity="0.5" stroke-width="4.2" stroke-linecap="round"/>
<line x1="338.4" x2="384.4" y1="368.1" y2="368.1" stroke="#141eeb" stroke-opacity="0.5" stroke-width="4.2" stroke-linecap="round"/>
<line x1="293.4" x2="384.4" y1="368.9" y2="368.9" stroke="#141eeb" stroke-opacity="0.5" stroke-width="4.2" stroke-linecap="round"/>
<line x1="348.0" x2="384.4" y1="371.7" y2="371.7" stroke="#141eeb" stroke-opacity="0.5" stroke-width="4.2" stroke-linecap="round"/>
<line x1="343.4" x2="384.4" y1="371.8" y2="371.8" stroke="#141eeb" stroke-opacity="0.5" stroke-width="4.2" stroke-linecap="round"/>
<line x1="326.1" x2="384.4" y1="371.3" y2="371.3" stroke="#141eeb" stroke-opacity="0.5" stroke-width="4.2" stroke-linecap="round"/>
<line x1="272.7" x2="384.4" y1="371.4" y2="371.4" stroke="#141eeb" stroke-opacity="0.5" stroke-width="4.2" stroke-linecap="round"/>
<line x1="352.9" x2="384.4" y1="375.4" y2="375.4" stroke="#141eeb" stroke-opacity="0.5" stroke-width="4.2" stroke-linecap="round"/>
<line x1="330.8" x2="384.4" y1="374.9" y2="374.9" stroke="#141eeb" stroke-opacity="0.5" stroke-width="4.2" stroke-linecap="round"/>
<line x1="330.6" x2="384.4" y1="375.1" y2="375.1" stroke="#141eeb" stroke-opacity="0.5" stroke-width="4.2" stroke-linecap="round"/>
<line x1="273.4" x2="384.4" y1="375.6" y2="375.6" stroke="#141eeb" stroke-opacity="0.5" stroke-width="4.2" stroke-linecap="round"/>
<line x1="345.5" x2="384.4" y1="378.0" y2="378.0" stroke="#141eeb" stroke-opacity="0.5" stroke-width="4.2" stroke-linecap="round"/>
<line x1="354.1" x2="384.4" y1="378.9" y2="378.9" stroke="#141eeb" stroke-opacity="0.5" stroke-width="4.2" stroke-linecap="round"/>
<line x1="319.3" x2="384.4" y1="378.7" y2="378.7" stroke="#141eeb" stroke-opacity="0.5" stroke-width="4.2" stroke-linecap="round"/>
<line x1="302.6" x2="384.4" y1="379.1" y2="379.1" stroke="#141eeb" stroke-opacity="0.5" stroke-width="4.2" stroke-linecap="round"/>
<line x1="346.5" x2="384.4" y1="382.4" y2="382.4" stroke="#141eeb" stroke-opacity="0.5" stroke-width="4.2" stroke-linecap="round"/>
<line x1="327.8" x2="384.4" y1="381.7" y2="381.7" stroke="#141eeb" stroke-opacity="0.5" stroke-width="4.2" stroke-linecap="round"/>
<line x1="335.3" x2="384.4" y1="382.0" y2="382.0" stroke="#141eeb" stroke-opacity="0.5" stroke-width="4.2" stroke-linecap="round"/>
<line x1="344.2" x2="384.4" y1="385.7" y2="385.7" stroke="#141eeb" stroke-opacity="0.5" stroke-width="4.2" stroke-linecap="round"/>
<line x1="336.9" x2="384.4" y1="385.7" y2="385.7" stroke="#141eeb" stroke-opacity="0.5" stroke-width="4.2" stroke-linecap="round"/>
<line x1="315.4" x2="384.4" y1="384.8" y2="384.8" stroke="#141eeb" stroke-opacity="0.5" stroke-width="4.2" stroke-linecap="round"/>
<line x1="358.3" x2="384.4" y1="389.3" y2="389.3" stroke="#141eeb" stroke-opacity="0.5" stroke-width="4.2" stroke-linecap="round"/>
<line x1="336.9" x2="384.4" y1="388.6" y2="388.6" stroke="#141eeb" stroke-opacity="0.5" stroke-width="4.2" stroke-linecap="round"/>
<line x1="330.4" x2="384.4" y1="389.0" y2="389.0" stroke="#141eeb" stroke-opacity="0.5" stroke-width="4.2" stroke-linecap="round"/>
<line x1="360.8" x2="384.4" y1="391.7" y2="391.7" stroke="#141eeb" stroke-opacity="0.5" stroke-width="4.2" stroke-linecap="round"/>
<line x1="340.3" x2="384.4" y1="392.3" y2="392.3" stroke="#141eeb" stroke-opacity="0.5" stroke-width="4.2" stroke-linecap="round"/>
<line x1="331.8" x2="384.4" y1="392.3" y2="392.3" stroke="#141eeb" stroke-opacity="0.5" stroke-width="4.2" stroke-linecap="round"/>
<line x1="307.3" x2="384.4" y1="392.2" y2="392.2" stroke="#141eeb" stroke-opacity="0.5" stroke-width="4.2" stroke-linecap="round"/>
<line x1="343.8" x2="384.4" y1="395.8" y2="395.8" stroke="#141eeb" stroke-opacity="0.5" stroke-width="4.2" stroke-linecap="round"/>
<line x1="330.3" x2="384.4" y1="395.6" y2="395.6" stroke="#141eeb" stroke-opacity="0.5" stroke-width="4.2" stroke-linecap="round"/>
<line x1="330.6" x2="384.4" y1="396.2" y2="396.2" stroke="#141eeb" stroke-opacity="0.5" stroke-width="4.2" stroke-linecap="round"/>
<line x1="356.9" x2="384.4" y1="398.4" y2="398.4" stroke="#141eeb" stroke-opacity="0.5" stroke-width="4.2" stroke-linecap="round"/>
<line x1="341.0" x2="384.4" y1="399.2" y2="399.2" stroke="#141eeb" stroke-opacity="0.5" stroke-width="4.2" stroke-linecap="round"/>
<line x1="330.1" x2="384.4" y1="399.2" y2="399.2" stroke="#141eeb" stroke-opacity="0.5" stroke-width="4.2" stroke-linecap="round"/>
<line x1="358.5" x2="384.4" y1="401.8" y2="401.8" stroke="#141eeb" stroke-opacity="0.5" stroke-width="4.2" stroke-linecap="round"/>
<line x1="345.5" x2="384.4" y1="402.3" y2="402.3" stroke="#141eeb" stroke-opacity="0.5" stroke-width="4.2" stroke-linecap="round"/>
<line x1="333.1" x2="384.4" y1="402.8" y2="402.8" stroke="#141eeb" stroke-opacity="0.5" stroke-width="4.2" stroke-linecap="round"/>
<line x1="352.9" x2="384.4" y1="405.4" y2="405.4" stroke="#141eeb" stroke-opacity="0.5" stroke-width="4.2" stroke-linecap="round"/>
<line x1="327.8" x2="384.4" y1="405.6" y2="405.6" stroke="#141eeb" stroke-opacity="0.5" stroke-width="4.2" stroke-linecap="round"/>
<line x1="331.5" x2="384.4" y1="405.5" y2="405.5" stroke="#141eeb" stroke-opacity="0.5" stroke-width="4.2" stroke-linecap="round"/>
<line x1="357.1" x2="384.4" y1="409.7" y2="409.7" stroke="#141eeb" stroke-opacity="0.5" stroke-width="4.2" stroke-linecap="round"/>
<line x1="341.1" x2="384.4" y1="408.8" y2="408.8" stroke="#141eeb" stroke-opacity="0.5" stroke-width="4.2" stroke-linecap="round"/>
<line x1="322.1" x2="384.4" y1="409.4" y2="409.4" stroke="#141eeb" stroke-opacity="0.5" stroke-width="4.2" stroke-linecap="round"/>
<line x1="360.1" x2="384.4" y1="412.5" y2="412.5" stroke="#141eeb" stroke-opacity="0.5" stroke-width="4.2" stroke-linecap="round"/>
<line x1="349.0" x2="384.4" y1="413.2" y2="413.2" stroke="#141eeb" stroke-opacity="0.5" stroke-width="4.2" stroke-linecap="round"/>
<line x1="340.4" x2="384.4" y1="412.1" y2="412.1" stroke="#141eeb" stroke-opacity="0.5" stroke-width="4.2" stroke-linecap="round"/>
<line x1="276.3" x2="384.4" y1="413.1" y2="413.1" stroke="#141eeb" stroke-opacity="0.5" stroke-width="4.2" stroke-linecap="round"/>
<line x1="348.3" x2="384.4" y1="416.6" y2="416.6" stroke="#141eeb" stroke-opacity="0.5" stroke-width="4.2" stroke-linecap="round"/>
<line x1="328.9" x2="384.4" y1="415.8" y2="415.8" stroke="#141eeb" stroke-opacity="0.5" stroke-width="4.2" stroke-linecap="round"/>
<line x1="296.2" x2="384.4" y1="416.3" y2="416.3" stroke="#141eeb" stroke-opacity="0.5" stroke-width="4.2" stroke-linecap="round"/>
<line x1="288.4" x2="384.4" y1="415.9" y2="415.9" stroke="#141eeb" stroke-opacity="0.5" stroke-width="4.2" stroke-linecap="round"/>
<line x1="355.5" x2="384.4" y1="419.2" y2="419.2" stroke="#141eeb" stroke-opacity="0.5" stroke-width="4.2" stroke-linecap="round"/>
<line x1="350.3" x2="384.4" y1="418.8" y2="418.8" stroke="#141eeb" stroke-opacity="0.5" stroke-width="4.2" stroke-linecap="round"/>
<line x1="325.4" x2="384.4" y1="419.9" y2="419.9" stroke="#141eeb" stroke-opacity="0.5" stroke-width="4.2" stroke-linecap="round"/>
<line x1="272.9" x2="384.4" y1="419.0" y2="419.0" stroke="#141eeb" stroke-opacity="0.5" stroke-width="4.2" stroke-linecap="round"/>
<line x1="355.9" x2="384.4" y1="423.2" y2="423.2" stroke="#141eeb" stroke-opacity="0.5" stroke-width="4.2" stroke-linecap="round"/>
<line x1="332.0" x2="384.4" y1="422.7" y2="422.7" stroke="#141eeb" stroke-opacity="0.5" stroke-width="4.2" stroke-linecap="round"/>
<line x1="319.3" x2="384.4" y1="422.6" y2="422.6" stroke="#141eeb" stroke-opacity="0.5" stroke-width="4.2" stroke-linecap="round"/>
<line x1="359.1" x2="384.4" y1="426.0" y2="426.0" stroke="#141eeb" stroke-opacity="0.5" stroke-width="4.2" stroke-linecap="round"/>
<line x1="329.9" x2="384.4" y1="425.6" y2="425.6" stroke="#141eeb" stroke-opacity="0.5" stroke-width="4.2" stroke-linecap="round"/>
<line x1="302.4" x2="384.4" y1="426.5" y2="426.5" stroke="#141eeb" stroke-opacity="0.5" stroke-width="4.2" stroke-linecap="round"/>
<line x1="321.2" x2="384.4" y1="425.7" y2="425.7" stroke="#141eeb" stroke-opacity="0.5" stroke-width="4.2" stroke-linecap="round"/>
<line x1="344.6" x2="384.4" y1="429.3" y2="429.3" stroke="#141eeb" stroke-opacity="0.5" stroke-width="4.2" stroke-linecap="round"/>
<line x1="334.1" x2="384.4" y1="430.1" y2="430.1" stroke="#141eeb" stroke-opacity="0.5" stroke-width="4.2" stroke-linecap="round"/>
<line x1="329.4" x2="384.4" y1="430.1" y2="430.1" stroke="#141eeb" stroke-opacity="0.5" stroke-width="4.2" stroke-linecap="round"/>
<line x1="357.8" x2="384.4" y1="433.3" y2="433.3" stroke="#141eeb" stroke-opacity="0.5" stroke-width="4.2" stroke-linecap="round"/>
<line x1="346.1" x2="384.4" y1="432.7" y2="432.7" stroke="#141eeb" stroke-opacity="0.5" stroke-width="4.2" stroke-linecap="round"/>
<line x1="305.2" x2="384.4" y1="433.5" y2="433.5" stroke="#141eeb" stroke-opacity="0.5" stroke-width="4.2" stroke-linecap="round"/>
<line x1="344.1" x2="384.4" y1="435.8" y2="435.8" stroke="#141eeb" stroke-opacity="0.5" stroke-width="4.2" stroke-linecap="round"/>
<line x1="348.5" x2="384.4" y1="436.4" y2="436.4" stroke="#141eeb" stroke-opacity="0.5" stroke-width="4.2" stroke-linecap="round"/>
<line x1="355.3" x2="384.4" y1="439.5" y2="439.5" stroke="#141eeb" stroke-opacity="0.5" stroke-width="4.2" stroke-linecap="round"/>
<line x1="343.0" x2="384.4" y1="439.8" y2="439.8" stroke="#141eeb" stroke-opacity="0.5" stroke-width="4.2" stroke-linecap="round"/>
<line x1="281.3" x2="384.4" y1="440.1" y2="440.1" stroke="#141eeb" stroke-opacity="0.5" stroke-width="4.2" stroke-linecap="round"/>
<line x1="346.5" x2="384.4" y1="443.5" y2="443.5" stroke="#141eeb" stroke-opacity="0.5" stroke-width="4.2" stroke-linecap="round"/>
<line x1="338.0" x2="384.4" y1="443.0" y2="443.0" stroke="#141eeb" stroke-opacity="0.5" stroke-width="4.2" stroke-linecap="round"/>
<line x1="324.9" x2="384.4" y1="443.5" y2="443.5" stroke="#141eeb" stroke-opacity="0.5" stroke-width="4.2" stroke-linecap="round"/>
<line x1="312.7" x2="384.4" y1="443.5" y2="443.5" stroke="#141eeb" stroke-opacity="0.5" stroke-width="4.2" stroke-linecap="round"/>
<line x1="358.1" x2="384.4" y1="446.1" y2="446.1" stroke="#141eeb" stroke-opacity="0.5" stroke-width="4.2" stroke-linecap="round"/>
<line x1="354.1" x2="384.4" y1="446.7" y2="446.7" stroke="#141eeb" stroke-opacity="0.5" stroke-width="4.2" stroke-linecap="round"/>
<line x1="294.0" x2="384.4" y1="447.1" y2="447.1" stroke="#141eeb" stroke-opacity="0.5" stroke-width="4.2" stroke-linecap="round"/>
<line x1="357.7" x2="384.4" y1="449.5" y2="449.5" stroke="#141eeb" stroke-opacity="0.5" stroke-width="4.2" stroke-linecap="round"/>
<line x1="352.3" x2="384.4" y1="450.0" y2="450.0" stroke="#141eeb" stroke-opacity="0.5" stroke-width="4.2" stroke-linecap="round"/>
<line x1="320.7" x2="384.4" y1="449.7" y2="449.7" stroke="#141eeb" stroke-opacity="0.5" stroke-width="4.2" stroke-linecap="round"/>
<line x1="290.7" x2="384.4" y1="450.2" y2="450.2" stroke="#141eeb" stroke-opacity="0.5" stroke-width="4.2" stroke-linecap="round"/>
<line x1="348.0" x2="384.4" y1="453.8" y2="453.8" stroke="#141eeb" stroke-opacity="0.5" stroke-width="4.2" stroke-linecap="round"/>
<line x1="336.4" x2="384.4" y1="452.9" y2="452.9" stroke="#141eeb" stroke-opacity="0.5" stroke-width="4.2" stroke-linecap="round"/>
<line x1="328.3" x2="384.4" y1="453.5" y2="453.5" stroke="#141eeb" stroke-opacity="0.5" stroke-width="4.2" stroke-linecap="round"/>
<line x1="284.6" x2="384.4" y1="453.0" y2="453.0" stroke="#141eeb" stroke-opacity="0.5" stroke-width="4.2" stroke-linecap="round"/>
<line x1="358.1" x2="384.4" y1="456.5" y2="456.5" stroke="#141eeb" stroke-opacity="0.5" stroke-width="4.2" stroke-linecap="round"/>
<line x1="350.7" x2="384.4" y1="457.3" y2="457.3" stroke="#141eeb" stroke-opacity="0.5" stroke-width="4.2" stroke-linecap="round"/>
<line x1="326.7" x2="384.4" y1="456.7" y2="456.7" stroke="#141eeb" stroke-opacity="0.5" stroke-width="4.2" stroke-linecap="round"/>
<line x1="352.9" x2="384.4" y1="459.9" y2="459.9" stroke="#141eeb" stroke-opacity="0.5" stroke-width="4.2" stroke-linecap="round"/>
<line x1="332.4" x2="384.4" y1="460.4" y2="460.4" stroke="#141eeb" stroke-opacity="0.5" stroke-width="4.2" stroke-linecap="round"/>
<line x1="298.3" x2="384.4" y1="460.6" y2="460.6" stroke="#141eeb" stroke-opacity="0.5" stroke-width="4.2" stroke-linecap="round"/>
<line x1="346.2" x2="384.4" y1="464.1" y2="464.1" stroke="#141eeb" stroke-opacity="0.5" stroke-width="4.2" stroke-linecap="round"/>
<line x1="353.9" x2="384.4" y1="463.4" y2="463.4" stroke="#141eeb" stroke-opacity="0.5" stroke-width="4.2" stroke-linecap="round"/>
<line x1="333.5" x2="384.4" y1="464.2" y2="464.2" stroke="#141eeb" stroke-opacity="0.5" stroke-width="4.2" stroke-linecap="round"/>
<line x1="344.4" x2="384.4" y1="466.8" y2="466.8" stroke="#141eeb" stroke-opacity="0.5" stroke-width="4.2" stroke-linecap="round"/>
<line x1="330.7" x2="384.4" y1="466.9" y2="466.9" stroke="#141eeb" stroke-opacity="0.5" stroke-width="4.2" stroke-linecap="round"/>
<line x1="304.1" x2="384.4" y1="467.5" y2="467.5" stroke="#141eeb" stroke-opacity="0.5" stroke-width="4.2" stroke-linecap="round"/>
<line x1="292.0" x2="384.4" y1="467.1" y2="467.1" stroke="#141eeb" stroke-opacity="0.5" stroke-width="4.2" stroke-linecap="round"/>
<line x1="358.6" x2="384.4" y1="470.2" y2="470.2" stroke="#141eeb" stroke-opacity="0.5" stroke-width="4.2" stroke-linecap="round"/>
<line x1="351.0" x2="384.4" y1="470.0" y2="470.0" stroke="#141eeb" stroke-opacity="0.5" stroke-width="4.2" stroke-linecap="round"/>
<line x1="313.0" x2="384.4" y1="470.6" y2="470.6" stroke="#141eeb" stroke-opacity="0.5" stroke-width="4.2" stroke-linecap="round"/>
<line x1="322.4" x2="384.4" y1="470.2" y2="470.2" stroke="#141eeb" stroke-opacity="0.5" stroke-width="4.2" stroke-linecap="round"/>
<line x1="349.4" x2="384.4" y1="473.4" y2="473.4" stroke="#141eeb" stroke-opacity="0.5" stroke-width="4.2" stroke-linecap="round"/>
<line x1="346.3" x2="384.4" y1="473.4" y2="473.4" stroke="#141eeb" stroke-opacity="0.5" stroke-width="4.2" stroke-linecap="round"/>
<line x1="315.6" x2="384.4" y1="473.3" y2="473.3" stroke="#141eeb" stroke-opacity="0.5" stroke-width="4.2" stroke-linecap="round"/>
<line x1="302.4" x2="384.4" y1="473.9" y2="473.9" stroke="#141eeb" stroke-opacity="0.5" stroke-width="4.2" stroke-linecap="round"/>
<line x1="350.2" x2="384.4" y1="476.7" y2="476.7" stroke="#141eeb" stroke-opacity="0.5" stroke-width="4.2" stroke-linecap="round"/>
<line x1="350.4" x2="384.4" y1="477.4" y2="477.4" stroke="#141eeb" stroke-opacity="0.5" stroke-width="4.2" stroke-linecap="round"/>
<line x1="328.8" x2="384.4" y1="477.0" y2="477.0" stroke="#141eeb" stroke-opacity="0.5" stroke-width="4.2" stroke-linecap="round"/>
<line x1="356.8" x2="384.4" y1="480.7" y2="480.7" stroke="#141eeb" stroke-opacity="0.5" stroke-width="4.2" stroke-linecap="round"/>
<line x1="345.0" x2="384.4" y1="480.5" y2="480.5" stroke="#141eeb" stroke-opacity="0.5" stroke-width="4.2" stroke-linecap="round"/>
<line x1="293.2" x2="384.4" y1="480.4" y2="480.4" stroke="#141eeb" stroke-opacity="0.5" stroke-width="4.2" stroke-linecap="round"/>
<line x1="285.1" x2="384.4" y1="480.2" y2="480.2" stroke="#141eeb" stroke-opacity="0.5" stroke-width="4.2" stroke-linecap="round"/>
<line x1="539.6" x2="567.2" y1="117.5" y2="117.5" stroke="#141eeb" stroke-opacity="0.5" stroke-width="4.2" stroke-linecap="round"/>
<line x1="539.6" x2="594.0" y1="117.4" y2="117.4" stroke="#141eeb" stroke-opacity="0.5" stroke-width="4.2" stroke-linecap="round"/>
<line x1="539.6" x2="640.0" y1="117.0" y2="117.0" stroke="#141eeb" stroke-opacity="0.5" stroke-width="4.2" stroke-linecap="round"/>
<line x1="539.6" x2="618.0" y1="117.1" y2="117.1" stroke="#141eeb" stroke-opacity="0.5" stroke-width="4.2" stroke-linecap="round"/>
<line x1="539.6" x2="586.2" y1="120.9" y2="120.9" stroke="#141eeb" stroke-opacity="0.5" stroke-width="4.2" stroke-linecap="round"/>
<line x1="539.6" x2="580.6" y1="120.5" y2="120.5" stroke="#141eeb" stroke-opacity="0.5" stroke-width="4.2" stroke-linecap="round"/>
<line x1="539.6" x2="617.3" y1="120.0" y2="120.0" stroke="#141eeb" stroke-opacity="0.5" stroke-width="4.2" stroke-linecap="round"/>
<line x1="539.6" x2="653.5" y1="120.9" y2="120.9" stroke="#141eeb" stroke-opacity="0.5" stroke-width="4.2" stroke-linecap="round"/>
<line x1="539.6" x2="570.3" y1="123.8" y2="123.8" stroke="#141eeb" stroke-opacity="0.5" stroke-width="4.2" stroke-linecap="round"/>
<line x1="539.6" x2="609.2" y1="124.4" y2="124.4" stroke="#141eeb" stroke-opacity="0.5" stroke-width="4.2" stroke-linecap="round"/>
<line x1="539.6" x2="594.6" y1="124.3" y2="124.3" stroke="#141eeb" stroke-opacity="0.5" stroke-width="4.2" stroke-linecap="round"/>
<line x1="539.6" x2="581.5" y1="126.7" y2="126.7" stroke="#141eeb" stroke-opacity="0.5" stroke-width="4.2" stroke-linecap="round"/>
<line x1="539.6" x2="614.0" y1="127.1" y2="127.1" stroke="#141eeb" stroke-opacity="0.5" stroke-width="4.2" stroke-linecap="round"/>
<line x1="539.6" x2="591.7" y1="130.2" y2="130.2" stroke="#141eeb" stroke-opacity="0.5" stroke-width="4.2" stroke-linecap="round"/>
<line x1="539.6" x2="608.4" y1="130.3" y2="130.3" stroke="#141eeb" stroke-opacity="0.5" stroke-width="4.2" stroke-linecap="round"/>
<line x1="539.6" x2="637.8" y1="131.0" y2="131.0" stroke="#141eeb" stroke-opacity="0.5" stroke-width="4.2" stroke-linecap="round"/>
<line x1="539.6" x2="632.3" y1="130.5" y2="130.5" stroke="#141eeb" stroke-opacity="0.5" stroke-width="4.2" stroke-linecap="round"/>
<line x1="539.6" x2="582.5" y1="133.9" y2="133.9" stroke="#141eeb" stroke-opacity="0.5" stroke-width="4.2" stroke-linecap="round"/>
<line x1="539.6" x2="581.9" y1="133.7" y2="133.7" stroke="#141eeb" stroke-opacity="0.5" stroke-width="4.2" stroke-linecap="round"/>
<line x1="539.6" x2="640.8" y1="133.4" y2="133.4" stroke="#141eeb" stroke-opacity="0.5" stroke-width="4.2" stroke-linecap="round"/>
<line x1="539.6" x2="589.7" y1="136.8" y2="136.8" stroke="#141eeb" stroke-opacity="0.5" stroke-width="4.2" stroke-linecap="round"/>
<line x1="539.6" x2="610.5" y1="136.9" y2="136.9" stroke="#141eeb" stroke-opacity="0.5" stroke-width="4.2" stroke-linecap="round"/>
<line x1="539.6" x2="620.0" y1="137.6" y2="137.6" stroke="#141eeb" stroke-opacity="0.5" stroke-width="4.2" stroke-linecap="round"/>
<line x1="539.6" x2="646.4" y1="137.5" y2="137.5" stroke="#141eeb" stroke-opacity="0.5" stroke-width="4.2" stroke-linecap="round"/>
<line x1="539.6" x2="579.8" y1="141.0" y2="141.0" stroke="#141eeb" stroke-opacity="0.5" stroke-width="4.2" stroke-linecap="round"/>
<line x1="539.6" x2="594.9" y1="140.7" y2="140.7" stroke="#141eeb" stroke-opacity="0.5" stroke-width="4.2" stroke-linecap="round"/>
<line x1="539.6" x2="624.1" y1="140.8" y2="140.8" stroke="#141eeb" stroke-opacity="0.5" stroke-width="4.2" stroke-linecap="round"/>
<line x1="539.6" x2="670.4" y1="141.1" y2="141.1" stroke="#141eeb" stroke-opacity="0.5" stroke-width="4.2" stroke-linecap="round"/>
<line x1="539.6" x2="580.7" y1="143.8" y2="143.8" stroke="#141eeb" stroke-opacity="0.5" stroke-width="4.2" stroke-linecap="round"/>
<line x1="539.6" x2="595.9" y1="143.7" y2="143.7" stroke="#141eeb" stroke-opacity="0.5" stroke-width="4.2" stroke-linecap="round"/>
<line x1="539.6" x2="612.8" y1="143.7" y2="143.7" stroke="#141eeb" stroke-opacity="0.5" stroke-width="4.2" stroke-linecap="round"/>
<line x1="539.6" x2="652.7" y1="143.6" y2="143.6" stroke="#141eeb" stroke-opacity="0.5" stroke-width="4.2" stroke-linecap="round"/>
<line x1="539.6" x2="586.1" y1="147.1" y2="147.1" stroke="#141eeb" stroke-opacity="0.5" stroke-width="4.2" stroke-linecap="round"/>
<line x1="539.6" x2="606.3" y1="147.9" y2="147.9" stroke="#141eeb" stroke-opacity="0.5" stroke-width="4.2" stroke-linecap="round"/>
<line x1="539.6" x2="590.3" y1="147.6" y2="147.6" stroke="#141eeb" stroke-opacity="0.5" stroke-width="4.2" stroke-linecap="round"/>
<line x1="539.6" x2="683.6" y1="147.2" y2="147.2" stroke="#141eeb" stroke-opacity="0.5" stroke-width="4.2" stroke-linecap="round"/>
<line x1="539.6" x2="592.7" y1="151.6" y2="151.6" stroke="#141eeb" stroke-opacity="0.5" stroke-width="4.2" stroke-linecap="round"/>
<line x1="539.6" x2="606.3" y1="151.4" y2="151.4" stroke="#141eeb" stroke-opacity="0.5" stroke-width="4.2" stroke-linecap="round"/>
<line x1="539.6" x2="645.9" y1="151.0" y2="151.0" stroke="#141eeb" stroke-opacity="0.5" stroke-width="4.2" stroke-linecap="round"/>
<line x1="539.6" x2="594.5" y1="154.0" y2="154.0" stroke="#141eeb" stroke-opacity="0.5" stroke-width="4.2" stroke-linecap="round"/>
<line x1="539.6" x2="608.5" y1="154.9" y2="154.9" stroke="#141eeb" stroke-opacity="0.5" stroke-width="4.2" stroke-linecap="round"/>
<line x1="539.6" x2="608.1" y1="154.7" y2="154.7" stroke="#141eeb" stroke-opacity="0.5" stroke-width="4.2" stroke-linecap="round"/>
<line x1="539.6" x2="679.8" y1="154.1" y2="154.1" stroke="#141eeb" stroke-opacity="0.5" stroke-width="4.2" stroke-linecap="round"/>
<line x1="539.6" x2="591.5" y1="157.4" y2="157.4" stroke="#141eeb" stroke-opacity="0.5" stroke-width="4.2" stroke-linecap="round"/>
<line x1="539.6" x2="597.1" y1="158.3" y2="158.3" stroke="#141eeb" stroke-opacity="0.5" stroke-width="4.2" stroke-linecap="round"/>
<line x1="539.6" x2="602.8" y1="157.8" y2="157.8" stroke="#141eeb" stroke-opacity="0.5" stroke-width="4.2" stroke-linecap="round"/>
<line x1="539.6" x2="619.6" y1="157.4" y2="157.4" stroke="#141eeb" stroke-opacity="0.5" stroke-width="4.2" stroke-linecap="round"/>
<line x1="539.6" x2="571.8" y1="161.7" y2="161.7" stroke="#141eeb" stroke-opacity="0.5" stroke-width="4.2" stroke-linecap="round"/>
<line x1="539.6" x2="604.2" y1="161.7" y2="161.7" stroke="#141eeb" stroke-opacity="0.5" stroke-width="4.2" stroke-linecap="round"/>
<line x1="539.6" x2="634.1" y1="160.7" y2="160.7" stroke="#141eeb" stroke-opacity="0.5" stroke-width="4.2" stroke-linecap="round"/>
<line x1="539.6" x2="586.1" y1="164.4" y2="164.4" stroke="#141eeb" stroke-opacity="0.5" stroke-width="4.2" stroke-linecap="round"/>
<line x1="539.6" x2="611.9" y1="164.7" y2="164.7" stroke="#141eeb" stroke-opacity="0.5" stroke-width="4.2" stroke-linecap="round"/>
<line x1="539.6" x2="640.0" y1="164.1" y2="164.1" stroke="#141eeb" stroke-opacity="0.5" stroke-width="4.2" stroke-linecap="round"/>
<line x1="539.6" x2="585.9" y1="167.9" y2="167.9" stroke="#141eeb" stroke-opacity="0.5" stroke-width="4.2" stroke-linecap="round"/>
<line x1="539.6" x2="608.9" y1="167.7" y2="167.7" stroke="#141eeb" stroke-opacity="0.5" stroke-width="4.2" stroke-linecap="round"/>
<line x1="539.6" x2="577.8" y1="171.7" y2="171.7" stroke="#141eeb" stroke-opacity="0.5" stroke-width="4.2" stroke-linecap="round"/>
<line x1="539.6" x2="594.7" y1="171.0" y2="171.0" stroke="#141eeb" stroke-opacity="0.5" stroke-width="4.2" stroke-linecap="round"/>
<line x1="539.6" x2="589.9" y1="171.8" y2="171.8" stroke="#141eeb" stroke-opacity="0.5" stroke-width="4.2" stroke-linecap="round"/>
<line x1="539.6" x2="661.7" y1="172.0" y2="172.0" stroke="#141eeb" stroke-opacity="0.5" stroke-width="4.2" stroke-linecap="round"/>
<line x1="539.6" x2="584.6" y1="175.0" y2="175.0" stroke="#141eeb" stroke-opacity="0.5" stroke-width="4.2" stroke-linecap="round"/>
<line x1="539.6" x2="589.5" y1="174.2" y2="174.2" stroke="#141eeb" stroke-opacity="0.5" stroke-width="4.2" stroke-linecap="round"/>
<line x1="539.6" x2="596.0" y1="174.9" y2="174.9" stroke="#141eeb" stroke-opacity="0.5" stroke-width="4.2" stroke-linecap="round"/>
<line x1="539.6" x2="652.9" y1="175.3" y2="175.3" stroke="#141eeb" stroke-opacity="0.5" stroke-width="4.2" stroke-linecap="round"/>
<line x1="539.6" x2="571.0" y1="177.9" y2="177.9" stroke="#141eeb" stroke-opacity="0.5" stroke-width="4.2" stroke-linecap="round"/>
<line x1="539.6" x2="603.1" y1="177.6" y2="177.6" stroke="#141eeb" stroke-opacity="0.5" stroke-width="4.2" stroke-linecap="round"/>
<line x1="539.6" x2="608.3" y1="177.7" y2="177.7" stroke="#141eeb" stroke-opacity="0.5" stroke-width="4.2" stroke-linecap="round"/>
<line x1="539.6" x2="632.7" y1="178.3" y2="178.3" stroke="#141eeb" stroke-opacity="0.5" stroke-width="4.2" stroke-linecap="round"/>
<line x1="539.6" x2="584.7" y1="181.2" y2="181.2" stroke="#141eeb" stroke-opacity="0.5" stroke-width="4.2" stroke-linecap="round"/>
<line x1="539.6" x2="602.0" y1="181.6" y2="181.6" stroke="#141eeb" stroke-opacity="0.5" stroke-width="4.2" stroke-linecap="round"/>
<line x1="539.6" x2="643.2" y1="181.3" y2="181.3" stroke="#141eeb" stroke-opacity="0.5" stroke-width="4.2" stroke-linecap="round"/>
<line x1="539.6" x2="623.7" y1="181.8" y2="181.8" stroke="#141eeb" stroke-opacity="0.5" stroke-width="4.2" stroke-linecap="round"/>
<line x1="539.6" x2="593.1" y1="185.3" y2="185.3" stroke="#141eeb" stroke-opacity="0.5" stroke-width="4.2" stroke-linecap="round"/>
<line x1="539.6" x2="593.1" y1="184.7" y2="184.7" stroke="#141eeb" stroke-opacity="0.5" stroke-width="4.2" stroke-linecap="round"/>
<line x1="539.6" x2="625.7" y1="185.1" y2="185.1" stroke="#141eeb" stroke-opacity="0.5" stroke-width="4.2" stroke-linecap="round"/>
<line x1="539.6" x2="662.2" y1="184.9" y2="184.9" stroke="#141eeb" stroke-opacity="0.5" stroke-width="4.2" stroke-linecap="round"/>
<line x1="539.6" x2="595.1" y1="188.7" y2="188.7" stroke="#141eeb" stroke-opacity="0.5" stroke-width="4.2" stroke-linecap="round"/>
<line x1="539.6" x2="586.9" y1="188.9" y2="188.9" stroke="#141eeb" stroke-opacity="0.5" stroke-width="4.2" stroke-linecap="round"/>
<line x1="539.6" x2="618.9" y1="188.3" y2="188.3" stroke="#141eeb" stroke-opacity="0.5" stroke-width="4.2" stroke-linecap="round"/>
<line x1="539.6" x2="621.1" y1="188.7" y2="188.7" stroke="#141eeb" stroke-opacity="0.5" stroke-width="4.2" stroke-linecap="round"/>
<line x1="539.6" x2="567.4" y1="191.9" y2="191.9" stroke="#141eeb" stroke-opacity="0.5" stroke-width="4.2" stroke-linecap="round"/>
<line x1="539.6" x2="614.6" y1="191.4" y2="191.4" stroke="#141eeb" stroke-opacity="0.5" stroke-width="4.2" stroke-linecap="round"/>
<line x1="539.6" x2="623.5" y1="191.8" y2="191.8" stroke="#141eeb" stroke-opacity="0.5" stroke-width="4.2" stroke-linecap="round"/>
<line x1="539.6" x2="591.4" y1="194.8" y2="194.8" stroke="#141eeb" stroke-opacity="0.5" stroke-width="4.2" stroke-linecap="round"/>
<line x1="539.6" x2="589.4" y1="195.0" y2="195.0" stroke="#141eeb" stroke-opacity="0.5" stroke-width="4.2" stroke-linecap="round"/>
<line x1="539.6" x2="640.4" y1="195.5" y2="195.5" stroke="#141eeb" stroke-opacity="0.5" stroke-width="4.2" stroke-linecap="round"/>
<line x1="539.6" x2="567.2" y1="199.0" y2="199.0" stroke="#141eeb" stroke-opacity="0.5" stroke-width="4.2" stroke-linecap="round"/>
<line x1="539.6" x2="606.8" y1="198.6" y2="198.6" stroke="#141eeb" stroke-opacity="0.5" stroke-width="4.2" stroke-linecap="round"/>
<line x1="539.6" x2="614.1" y1="198.3" y2="198.3" stroke="#141eeb" stroke-opacity="0.5" stroke-width="4.2" stroke-linecap="round"/>
<line x1="539.6" x2="633.3" y1="198.0" y2="198.0" stroke="#141eeb" stroke-opacity="0.5" stroke-width="4.2" stroke-linecap="round"/>
<line x1="539.6" x2="577.1" y1="202.3" y2="202.3" stroke="#141eeb" stroke-opacity="0.5" stroke-width="4.2" stroke-linecap="round"/>
<line x1="539.6" x2="604.8" y1="202.4" y2="202.4" stroke="#141eeb" stroke-opacity="0.5" stroke-width="4.2" stroke-linecap="round"/>
<line x1="539.6" x2="603.0" y1="202.1" y2="202.1" stroke="#141eeb" stroke-opacity="0.5" stroke-width="4.2" stroke-linecap="round"/>
<line x1="539.6" x2="672.2" y1="202.0" y2="202.0" stroke="#141eeb" stroke-opacity="0.5" stroke-width="4.2" stroke-linecap="round"/>
<line x1="539.6" x2="575.0" y1="205.6" y2="205.6" stroke="#141eeb" stroke-opacity="0.5" stroke-width="4.2" stroke-linecap="round"/>
<line x1="539.6" x2="615.6" y1="205.1" y2="205.1" stroke="#141eeb" stroke-opacity="0.5" stroke-width="4.2" stroke-linecap="round"/>
<line x1="539.6" x2="587.9" y1="205.1" y2="205.1" stroke="#141eeb" stroke-opacity="0.5" stroke-width="4.2" stroke-linecap="round"/>
<line x1="539.6" x2="669.1" y1="205.9" y2="205.9" stroke="#141eeb" stroke-opacity="0.5" stroke-width="4.2" stroke-linecap="round"/>
<line x1="539.6" x2="589.4" y1="208.6" y2="208.6" stroke="#141eeb" stroke-opacity="0.5" stroke-width="4.2" stroke-linecap="round"/>
<line x1="539.6" x2="612.2" y1="208.6" y2="208.6" stroke="#141eeb" stroke-opacity="0.5" stroke-width="4.2" stroke-linecap="round"/>
<line x1="539.6" x2="641.5" y1="209.0" y2="209.0" stroke="#141eeb" stroke-opacity="0.5" stroke-width="4.2" stroke-linecap="round"/>
<line x1="539.6" x2="587.0" y1="212.8" y2="212.8" stroke="#141eeb" stroke-opacity="0.5" stroke-width="4.2" stroke-linecap="round"/>
<line x1="539.6" x2="595.8" y1="212.6" y2="212.6" stroke="#141eeb" stroke-opacity="0.5" stroke-width="4.2" stroke-linecap="round"/>
<line x1="539.6" x2="638.5" y1="212.1" y2="212.1" stroke="#141eeb" stroke-opacity="0.5" stroke-width="4.2" stroke-linecap="round"/>
<line x1="539.6" x2="584.1" y1="215.4" y2="215.4" stroke="#141eeb" stroke-opacity="0.5" stroke-width="4.2" stroke-linecap="round"/>
<line x1="539.6" x2="585.5" y1="215.7" y2="215.7" stroke="#141eeb" stroke-opacity="0.5" stroke-width="4.2" stroke-linecap="round"/>
<line x1="539.6" x2="641.6" y1="215.2" y2="215.2" stroke="#141eeb" stroke-opacity="0.5" stroke-width="4.2" stroke-linecap="round"/>
<line x1="539.6" x2="624.5" y1="216.1" y2="216.1" stroke="#141eeb" stroke-opacity="0.5" stroke-width="4.2" stroke-linecap="round"/>
<line x1="539.6" x2="577.3" y1="218.6" y2="218.6" stroke="#141eeb" stroke-opacity="0.5" stroke-width="4.2" stroke-linecap="round"/>
<line x1="539.6" x2="578.1" y1="218.4" y2="218.4" stroke="#141eeb" stroke-opacity="0.5" stroke-width="4.2" stroke-linecap="round"/>
<line x1="539.6" x2="625.0" y1="219.2" y2="219.2" stroke="#141eeb" stroke-opacity="0.5" stroke-width="4.2" stroke-linecap="round"/>
<line x1="539.6" x2="569.0" y1="222.5" y2="222.5" stroke="#141eeb" stroke-opacity="0.5" stroke-width="4.2" stroke-linecap="round"/>
<line x1="539.6" x2="591.5" y1="222.8" y2="222.8" stroke="#141eeb" stroke-opacity="0.5" stroke-width="4.2" stroke-linecap="round"/>
<line x1="539.6" x2="640.5" y1="221.9" y2="221.9" stroke="#141eeb" stroke-opacity="0.5" stroke-width="4.2" stroke-linecap="round"/>
<line x1="539.6" x2="594.4" y1="226.3" y2="226.3" stroke="#141eeb" stroke-opacity="0.5" stroke-width="4.2" stroke-linecap="round"/>
<line x1="539.6" x2="581.3" y1="225.4" y2="225.4" stroke="#141eeb" stroke-opacity="0.5" stroke-width="4.2" stroke-linecap="round"/>
<line x1="539.6" x2="589.1" y1="226.2" y2="226.2" stroke="#141eeb" stroke-opacity="0.5" stroke-width="4.2" stroke-linecap="round"/>
<line x1="539.6" x2="586.0" y1="229.6" y2="229.6" stroke="#141eeb" stroke-opacity="0.5" stroke-width="4.2" stroke-linecap="round"/>
<line x1="539.6" x2="602.3" y1="228.9" y2="228.9" stroke="#141eeb" stroke-opacity="0.5" stroke-width="4.2" stroke-linecap="round"/>
<line x1="539.6" x2="592.9" y1="229.5" y2="229.5" stroke="#141eeb" stroke-opacity="0.5" stroke-width="4.2" stroke-linecap="round"/>
<line x1="539.6" x2="639.3" y1="229.1" y2="229.1" stroke="#141eeb" stroke-opacity="0.5" stroke-width="4.2" stroke-linecap="round"/>
<line x1="539.6" x2="567.6" y1="232.3" y2="232.3" stroke="#141eeb" stroke-opacity="0.5" stroke-width="4.2" stroke-linecap="round"/>
<line x1="539.6" x2="588.3" y1="232.9" y2="232.9" stroke="#141eeb" stroke-opacity="0.5" stroke-width="4.2" stroke-linecap="round"/>
<line x1="539.6" x2="606.2" y1="233.2" y2="233.2" stroke="#141eeb" stroke-opacity="0.5" stroke-width="4.2" stroke-linecap="round"/>
<line x1="539.6" x2="592.5" y1="236.1" y2="236.1" stroke="#141eeb" stroke-opacity="0.5" stroke-width="4.2" stroke-linecap="round"/>
<line x1="539.6" x2="578.2" y1="235.9" y2="235.9" stroke="#141eeb" stroke-opacity="0.5" stroke-width="4.2" stroke-linecap="round"/>
<line x1="539.6" x2="633.4" y1="235.8" y2="235.8" stroke="#141eeb" stroke-opacity="0.5" stroke-width="4.2" stroke-linecap="round"/>
<line x1="539.6" x2="583.1" y1="239.1" y2="239.1" stroke="#141eeb" stroke-opacity="0.5" stroke-width="4.2" stroke-linecap="round"/>
<line x1="539.6" x2="611.5" y1="238.9" y2="238.9" stroke="#141eeb" stroke-opacity="0.5" stroke-width="4.2" stroke-linecap="round"/>
<line x1="539.6" x2="597.2" y1="238.8" y2="238.8" stroke="#141eeb" stroke-opacity="0.5" stroke-width="4.2" stroke-linecap="round"/>
<line x1="539.6" x2="670.4" y1="240.0" y2="240.0" stroke="#141eeb" stroke-opacity="0.5" stroke-width="4.2" stroke-linecap="round"/>
<line x1="539.6" x2="567.1" y1="242.8" y2="242.8" stroke="#141eeb" stroke-opacity="0.5" stroke-width="4.2" stroke-linecap="round"/>
<line x1="539.6" x2="596.7" y1="243.2" y2="243.2" stroke="#141eeb" stroke-opacity="0.5" stroke-width="4.2" stroke-linecap="round"/>
<line x1="539.6" x2="616.7" y1="242.6" y2="242.6" stroke="#141eeb" stroke-opacity="0.5" stroke-width="4.2" stroke-linecap="round"/>
<line x1="539.6" x2="574.8" y1="246.7" y2="246.7" stroke="#141eeb" stroke-opacity="0.5" stroke-width="4.2" stroke-linecap="round"/>
<line x1="539.6" x2="588.3" y1="245.9" y2="245.9" stroke="#141eeb" stroke-opacity="0.5" stroke-width="4.2" stroke-linecap="round"/>
<line x1="539.6" x2="616.9" y1="245.7" y2="245.7" stroke="#141eeb" stroke-opacity="0.5" stroke-width="4.2" stroke-linecap="round"/>
<line x1="539.6" x2="569.4" y1="249.9" y2="249.9" stroke="#141eeb" stroke-opacity="0.5" stroke-width="4.2" stroke-linecap="round"/>
<line x1="539.6" x2="604.9" y1="249.9" y2="249.9" stroke="#141eeb" stroke-opacity="0.5" stroke-width="4.2" stroke-linecap="round"/>
<line x1="539.6" x2="608.3" y1="249.5" y2="249.5" stroke="#141eeb" stroke-opacity="0.5" stroke-width="4.2" stroke-linecap="round"/>
<line x1="539.6" x2="679.3" y1="249.1" y2="249.1" stroke="#141eeb" stroke-opacity="0.5" stroke-width="4.2" stroke-linecap="round"/>
<line x1="539.6" x2="593.7" y1="252.4" y2="252.4" stroke="#141eeb" stroke-opacity="0.5" stroke-width="4.2" stroke-linecap="round"/>
<line x1="539.6" x2="585.2" y1="252.7" y2="252.7" stroke="#141eeb" stroke-opacity="0.5" stroke-width="4.2" stroke-linecap="round"/>
<line x1="539.6" x2="578.4" y1="256.9" y2="256.9" stroke="#141eeb" stroke-opacity="0.5" stroke-width="4.2" stroke-linecap="round"/>
<line x1="539.6" x2="586.3" y1="256.4" y2="256.4" stroke="#141eeb" stroke-opacity="0.5" stroke-width="4.2" stroke-linecap="round"/>
<line x1="539.6" x2="632.3" y1="256.7" y2="256.7" stroke="#141eeb" stroke-opacity="0.5" stroke-width="4.2" stroke-linecap="round"/>
<line x1="539.6" x2="577.5" y1="259.6" y2="259.6" stroke="#141eeb" stroke-opacity="0.5" stroke-width="4.2" stroke-linecap="round"/>
<line x1="539.6" x2="583.2" y1="260.2" y2="260.2" stroke="#141eeb" stroke-opacity="0.5" stroke-width="4.2" stroke-linecap="round"/>
<line x1="539.6" x2="631.5" y1="259.4" y2="259.4" stroke="#141eeb" stroke-opacity="0.5" stroke-width="4.2" stroke-linecap="round"/>
<line x1="539.6" x2="671.1" y1="259.9" y2="259.9" stroke="#141eeb" stroke-opacity="0.5" stroke-width="4.2" stroke-linecap="round"/>
<line x1="539.6" x2="570.8" y1="263.2" y2="263.2" stroke="#141eeb" stroke-opacity="0.5" stroke-width="4.2" stroke-linecap="round"/>
<line x1="539.6" x2="612.4" y1="262.9" y2="262.9" stroke="#141eeb" stroke-opacity="0.5" stroke-width="4.2" stroke-linecap="round"/>
<line x1="539.6" x2="605.1" y1="263.4" y2="263.4" stroke="#141eeb" stroke-opacity="0.5" stroke-width="4.2" stroke-linecap="round"/>
<line x1="539.6" x2="571.6" y1="266.2" y2="266.2" stroke="#141eeb" stroke-opacity="0.5" stroke-width="4.2" stroke-linecap="round"/>
<line x1="539.6" x2="586.9" y1="266.4" y2="266.4" stroke="#141eeb" stroke-opacity="0.5" stroke-width="4.2" stroke-linecap="round"/>
<line x1="539.6" x2="596.7" y1="266.4" y2="266.4" stroke="#141eeb" stroke-opacity="0.5" stroke-width="4.2" stroke-linecap="round"/>
<line x1="539.6" x2="685.3" y1="266.9" y2="266.9" stroke="#141eeb" stroke-opacity="0.5" stroke-width="4.2" stroke-linecap="round"/>
<line x1="539.6" x2="570.1" y1="270.6" y2="270.6" stroke="#141eeb" stroke-opacity="0.5" stroke-width="4.2" stroke-linecap="round"/>
<line x1="539.6" x2="581.1" y1="269.9" y2="269.9" stroke="#141eeb" stroke-opacity="0.5" stroke-width="4.2" stroke-linecap="round"/>
<line x1="539.6" x2="589.0" y1="273.3" y2="273.3" stroke="#141eeb" stroke-opacity="0.5" stroke-width="4.2" stroke-linecap="round"/>
<line x1="539.6" x2="584.8" y1="273.6" y2="273.6" stroke="#141eeb" stroke-opacity="0.5" stroke-width="4.2" stroke-linecap="round"/>
<line x1="539.6" x2="599.4" y1="273.3" y2="273.3" stroke="#141eeb" stroke-opacity="0.5" stroke-width="4.2" stroke-linecap="round"/>
<line x1="539.6" x2="644.9" y1="273.7" y2="273.7" stroke="#141eeb" stroke-opacity="0.5" stroke-width="4.2" stroke-linecap="round"/>
<line x1="539.6" x2="587.8" y1="276.8" y2="276.8" stroke="#141eeb" stroke-opacity="0.5" stroke-width="4.2" stroke-linecap="round"/>
<line x1="539.6" x2="602.3" y1="276.8" y2="276.8" stroke="#141eeb" stroke-opacity="0.5" stroke-width="4.2" stroke-linecap="round"/>
<line x1="539.6" x2="623.2" y1="276.7" y2="276.7" stroke="#141eeb" stroke-opacity="0.5" stroke-width="4.2" stroke-linecap="round"/>
<line x1="539.6" x2="594.2" y1="280.1" y2="280.1" stroke="#141eeb" stroke-opacity="0.5" stroke-width="4.2" stroke-linecap="round"/>
<line x1="539.6" x2="600.0" y1="280.5" y2="280.5" stroke="#141eeb" stroke-opacity="0.5" stroke-width="4.2" stroke-linecap="round"/>
<line x1="539.6" x2="600.7" y1="280.5" y2="280.5" stroke="#141eeb" stroke-opacity="0.5" stroke-width="4.2" stroke-linecap="round"/>
<line x1="539.6" x2="590.2" y1="283.8" y2="283.8" stroke="#141eeb" stroke-opacity="0.5" stroke-width="4.2" stroke-linecap="round"/>
<line x1="539.6" x2="611.1" y1="283.8" y2="283.8" stroke="#141eeb" stroke-opacity="0.5" stroke-width="4.2" stroke-linecap="round"/>
<line x1="539.6" x2="614.2" y1="283.4" y2="283.4" stroke="#141eeb" stroke-opacity="0.5" stroke-width="4.2" stroke-linecap="round"/>
<line x1="539.6" x2="569.9" y1="286.9" y2="286.9" stroke="#141eeb" stroke-opacity="0.5" stroke-width="4.2" stroke-linecap="round"/>
<line x1="539.6" x2="608.3" y1="287.3" y2="287.3" stroke="#141eeb" stroke-opacity="0.5" stroke-width="4.2" stroke-linecap="round"/>
<line x1="539.6" x2="602.0" y1="286.9" y2="286.9" stroke="#141eeb" stroke-opacity="0.5" stroke-width="4.2" stroke-linecap="round"/>
<line x1="539.6" x2="660.5" y1="286.9" y2="286.9" stroke="#141eeb" stroke-opacity="0.5" stroke-width="4.2" stroke-linecap="round"/>
<line x1="539.6" x2="587.3" y1="290.9" y2="290.9" stroke="#141eeb" stroke-opacity="0.5" stroke-width="4.2" stroke-linecap="round"/>
<line x1="539.6" x2="584.3" y1="290.6" y2="290.6" stroke="#141eeb" stroke-opacity="0.5" stroke-width="4.2" stroke-linecap="round"/>
<line x1="539.6" x2="610.3" y1="290.4" y2="290.4" stroke="#141eeb" stroke-opacity="0.5" stroke-width="4.2" stroke-linecap="round"/>
<line x1="539.6" x2="568.1" y1="293.9" y2="293.9" stroke="#141eeb" stroke-opacity="0.5" stroke-width="4.2" stroke-linecap="round"/>
<line x1="539.6" x2="583.4" y1="294.1" y2="294.1" stroke="#141eeb" stroke-opacity="0.5" stroke-width="4.2" stroke-linecap="round"/>
<line x1="539.6" x2="570.0" y1="297.3" y2="297.3" stroke="#141eeb" stroke-opacity="0.5" stroke-width="4.2" stroke-linecap="round"/>
<line x1="539.6" x2="598.6" y1="297.5" y2="297.5" stroke="#141eeb" stroke-opacity="0.5" stroke-width="4.2" stroke-linecap="round"/>
<line x1="539.6" x2="625.4" y1="297.6" y2="297.6" stroke="#141eeb" stroke-opacity="0.5" stroke-width="4.2" stroke-linecap="round"/>
<line x1="539.6" x2="579.3" y1="301.1" y2="301.1" stroke="#141eeb" stroke-opacity="0.5" stroke-width="4.2" stroke-linecap="round"/>
<line x1="539.6" x2="585.4" y1="300.8" y2="300.8" stroke="#141eeb" stroke-opacity="0.5" stroke-width="4.2" stroke-linecap="round"/>
<line x1="539.6" x2="632.8" y1="300.1" y2="300.1" stroke="#141eeb" stroke-opacity="0.5" stroke-width="4.2" stroke-linecap="round"/>
<line x1="539.6" x2="577.7" y1="303.5" y2="303.5" stroke="#141eeb" stroke-opacity="0.5" stroke-width="4.2" stroke-linecap="round"/>
<line x1="539.6" x2="588.0" y1="303.9" y2="303.9" stroke="#141eeb" stroke-opacity="0.5" stroke-width="4.2" stroke-linecap="round"/>
<line x1="539.6" x2="612.1" y1="303.9" y2="303.9" stroke="#141eeb" stroke-opacity="0.5" stroke-width="4.2" stroke-linecap="round"/>
<line x1="539.6" x2="577.6" y1="307.1" y2="307.1" stroke="#141eeb" stroke-opacity="0.5" stroke-width="4.2" stroke-linecap="round"/>
<line x1="539.6" x2="586.0" y1="307.7" y2="307.7" stroke="#141eeb" stroke-opacity="0.5" stroke-width="4.2" stroke-linecap="round"/>
<line x1="539.6" x2="573.6" y1="311.2" y2="311.2" stroke="#141eeb" stroke-opacity="0.5" stroke-width="4.2" stroke-linecap="round"/>
<line x1="539.6" x2="592.7" y1="310.5" y2="310.5" stroke="#141eeb" stroke-opacity="0.5" stroke-width="4.2" stroke-linecap="round"/>
<line x1="539.6" x2="633.6" y1="311.2" y2="311.2" stroke="#141eeb" stroke-opacity="0.5" stroke-width="4.2" stroke-linecap="round"/>
<line x1="539.6" x2="581.1" y1="314.3" y2="314.3" stroke="#141eeb" stroke-opacity="0.5" stroke-width="4.2" stroke-linecap="round"/>
<line x1="539.6" x2="586.0" y1="314.8" y2="314.8" stroke="#141eeb" stroke-opacity="0.5" stroke-width="4.2" stroke-linecap="round"/>
<line x1="539.6" x2="625.3" y1="314.6" y2="314.6" stroke="#141eeb" stroke-opacity="0.5" stroke-width="4.2" stroke-linecap="round"/>
<line x1="539.6" x2="581.0" y1="317.4" y2="317.4" stroke="#141eeb" stroke-opacity="0.5" stroke-width="4.2" stroke-linecap="round"/>
<line x1="539.6" x2="598.9" y1="317.2" y2="317.2" stroke="#141eeb" stroke-opacity="0.5" stroke-width="4.2" stroke-linecap="round"/>
<line x1="539.6" x2="608.3" y1="318.0" y2="318.0" stroke="#141eeb" stroke-opacity="0.5" stroke-width="4.2" stroke-linecap="round"/>
<line x1="539.6" x2="643.3" y1="317.3" y2="317.3" stroke="#141eeb" stroke-opacity="0.5" stroke-width="4.2" stroke-linecap="round"/>
<line x1="539.6" x2="579.8" y1="320.6" y2="320.6" stroke="#141eeb" stroke-opacity="0.5" stroke-width="4.2" stroke-linecap="round"/>
<line x1="539.6" x2="577.1" y1="321.3" y2="321.3" stroke="#141eeb" stroke-opacity="0.5" stroke-width="4.2" stroke-linecap="round"/>
<line x1="539.6" x2="601.7" y1="320.8" y2="320.8" stroke="#141eeb" stroke-opacity="0.5" stroke-width="4.2" stroke-linecap="round"/>
<line x1="539.6" x2="647.0" y1="321.2" y2="321.2" stroke="#141eeb" stroke-opacity="0.5" stroke-width="4.2" stroke-linecap="round"/>
<line x1="539.6" x2="586.8" y1="324.2" y2="324.2" stroke="#141eeb" stroke-opacity="0.5" stroke-width="4.2" stroke-linecap="round"/>
<line x1="539.6" x2="614.1" y1="324.8" y2="324.8" stroke="#141eeb" stroke-opacity="0.5" stroke-width="4.2" stroke-linecap="round"/>
<line x1="539.6" x2="636.7" y1="324.9" y2="324.9" stroke="#141eeb" stroke-opacity="0.5" stroke-width="4.2" stroke-linecap="round"/>
<line x1="539.6" x2="571.2" y1="328.2" y2="328.2" stroke="#141eeb" stroke-opacity="0.5" stroke-width="4.2" stroke-linecap="round"/>
<line x1="539.6" x2="602.3" y1="327.2" y2="327.2" stroke="#141eeb" stroke-opacity="0.5" stroke-width="4.2" stroke-linecap="round"/>
<line x1="539.6" x2="644.1" y1="328.0" y2="328.0" stroke="#141eeb" stroke-opacity="0.5" stroke-width="4.2" stroke-linecap="round"/>
<line x1="539.6" x2="624.1" y1="327.4" y2="327.4" stroke="#141eeb" stroke-opacity="0.5" stroke-width="4.2" stroke-linecap="round"/>
<line x1="539.6" x2="574.0" y1="331.5" y2="331.5" stroke="#141eeb" stroke-opacity="0.5" stroke-width="4.2" stroke-linecap="round"/>
<line x1="539.6" x2="590.9" y1="330.8" y2="330.8" stroke="#141eeb" stroke-opacity="0.5" stroke-width="4.2" stroke-linecap="round"/>
<line x1="539.6" x2="572.0" y1="335.1" y2="335.1" stroke="#141eeb" stroke-opacity="0.5" stroke-width="4.2" stroke-linecap="round"/>
<line x1="539.6" x2="601.3" y1="334.9" y2="334.9" stroke="#141eeb" stroke-opacity="0.5" stroke-width="4.2" stroke-linecap="round"/>
<line x1="539.6" x2="640.6" y1="334.9" y2="334.9" stroke="#141eeb" stroke-opacity="0.5" stroke-width="4.2" stroke-linecap="round"/>
<line x1="539.6" x2="572.9" y1="338.2" y2="338.2" stroke="#141eeb" stroke-opacity="0.5" stroke-width="4.2" stroke-linecap="round"/>
<line x1="539.6" x2="598.2" y1="338.3" y2="338.3" stroke="#141eeb" stroke-opacity="0.5" stroke-width="4.2" stroke-linecap="round"/>
<line x1="539.6" x2="640.0" y1="338.1" y2="338.1" stroke="#141eeb" stroke-opacity="0.5" stroke-width="4.2" stroke-linecap="round"/>
<line x1="539.6" x2="633.4" y1="337.6" y2="337.6" stroke="#141eeb" stroke-opacity="0.5" stroke-width="4.2" stroke-linecap="round"/>
<line x1="539.6" x2="581.8" y1="340.9" y2="340.9" stroke="#141eeb" stroke-opacity="0.5" stroke-width="4.2" stroke-linecap="round"/>
<line x1="539.6" x2="595.7" y1="341.0" y2="341.0" stroke="#141eeb" stroke-opacity="0.5" stroke-width="4.2" stroke-linecap="round"/>
<line x1="539.6" x2="616.9" y1="341.4" y2="341.4" stroke="#141eeb" stroke-opacity="0.5" stroke-width="4.2" stroke-linecap="round"/>
<line x1="539.6" x2="567.2" y1="345.2" y2="345.2" stroke="#141eeb" stroke-opacity="0.5" stroke-width="4.2" stroke-linecap="round"/>
<line x1="539.6" x2="595.7" y1="344.9" y2="344.9" stroke="#141eeb" stroke-opacity="0.5" stroke-width="4.2" stroke-linecap="round"/>
<line x1="539.6" x2="637.4" y1="344.6" y2="344.6" stroke="#141eeb" stroke-opacity="0.5" stroke-width="4.2" stroke-linecap="round"/>
<line x1="539.6" x2="684.2" y1="344.3" y2="344.3" stroke="#141eeb" stroke-opacity="0.5" stroke-width="4.2" stroke-linecap="round"/>
<line x1="539.6" x2="586.1" y1="348.4" y2="348.4" stroke="#141eeb" stroke-opacity="0.5" stroke-width="4.2" stroke-linecap="round"/>
<line x1="539.6" x2="578.1" y1="348.3" y2="348.3" stroke="#141eeb" stroke-opacity="0.5" stroke-width="4.2" stroke-linecap="round"/>
<line x1="539.6" x2="642.9" y1="348.0" y2="348.0" stroke="#141eeb" stroke-opacity="0.5" stroke-width="4.2" stroke-linecap="round"/>
<line x1="539.6" x2="582.3" y1="351.6" y2="351.6" stroke="#141eeb" stroke-opacity="0.5" stroke-width="4.2" stroke-linecap="round"/>
<line x1="539.6" x2="612.9" y1="351.0" y2="351.0" stroke="#141eeb" stroke-opacity="0.5" stroke-width="4.2" stroke-linecap="round"/>
<line x1="539.6" x2="624.5" y1="351.4" y2="351.4" stroke="#141eeb" stroke-opacity="0.5" stroke-width="4.2" stroke-linecap="round"/>
<line x1="539.6" x2="578.0" y1="355.0" y2="355.0" stroke="#141eeb" stroke-opacity="0.5" stroke-width="4.2" stroke-linecap="round"/>
<line x1="539.6" x2="598.0" y1="355.3" y2="355.3" stroke="#141eeb" stroke-opacity="0.5" stroke-width="4.2" stroke-linecap="round"/>
<line x1="539.6" x2="613.1" y1="354.9" y2="354.9" stroke="#141eeb" stroke-opacity="0.5" stroke-width="4.2" stroke-linecap="round"/>
<line x1="539.6" x2="591.8" y1="358.2" y2="358.2" stroke="#141eeb" stroke-opacity="0.5" stroke-width="4.2" stroke-linecap="round"/>
<line x1="539.6" x2="610.1" y1="358.3" y2="358.3" stroke="#141eeb" stroke-opacity="0.5" stroke-width="4.2" stroke-linecap="round"/>
<line x1="539.6" x2="603.3" y1="358.4" y2="358.4" stroke="#141eeb" stroke-opacity="0.5" stroke-width="4.2" stroke-linecap="round"/>
<line x1="539.6" x2="586.6" y1="362.2" y2="362.2" stroke="#141eeb" stroke-opacity="0.5" stroke-width="4.2" stroke-linecap="round"/>
<line x1="539.6" x2="590.2" y1="361.6" y2="361.6" stroke="#141eeb" stroke-opacity="0.5" stroke-width="4.2" stroke-linecap="round"/>
<line x1="539.6" x2="622.2" y1="362.0" y2="362.0" stroke="#141eeb" stroke-opacity="0.5" stroke-width="4.2" stroke-linecap="round"/>
<line x1="539.6" x2="568.2" y1="365.5" y2="365.5" stroke="#141eeb" stroke-opacity="0.5" stroke-width="4.2" stroke-linecap="round"/>
<line x1="539.6" x2="612.4" y1="365.3" y2="365.3" stroke="#141eeb" stroke-opacity="0.5" stroke-width="4.2" stroke-linecap="round"/>
<line x1="539.6" x2="605.0" y1="364.6" y2="364.6" stroke="#141eeb" stroke-opacity="0.5" stroke-width="4.2" stroke-linecap="round"/>
<line x1="539.6" x2="681.5" y1="365.3" y2="365.3" stroke="#141eeb" stroke-opacity="0.5" stroke-width="4.2" stroke-linecap="round"/>
<line x1="539.6" x2="586.7" y1="368.9" y2="368.9" stroke="#141eeb" stroke-opacity="0.5" stroke-width="4.2" stroke-linecap="round"/>
<line x1="539.6" x2="613.4" y1="368.7" y2="368.7" stroke="#141eeb" stroke-opacity="0.5" stroke-width="4.2" stroke-linecap="round"/>
<line x1="539.6" x2="624.6" y1="368.8" y2="368.8" stroke="#141eeb" stroke-opacity="0.5" stroke-width="4.2" stroke-linecap="round"/>
<line x1="539.6" x2="587.4" y1="371.7" y2="371.7" stroke="#141eeb" stroke-opacity="0.5" stroke-width="4.2" stroke-linecap="round"/>
<line x1="539.6" x2="603.7" y1="371.9" y2="371.9" stroke="#141eeb" stroke-opacity="0.5" stroke-width="4.2" stroke-linecap="round"/>
<line x1="539.6" x2="593.1" y1="371.6" y2="371.6" stroke="#141eeb" stroke-opacity="0.5" stroke-width="4.2" stroke-linecap="round"/>
<line x1="539.6" x2="671.2" y1="372.5" y2="372.5" stroke="#141eeb" stroke-opacity="0.5" stroke-width="4.2" stroke-linecap="round"/>
<line x1="539.6" x2="586.7" y1="375.2" y2="375.2" stroke="#141eeb" stroke-opacity="0.5" stroke-width="4.2" stroke-linecap="round"/>
<line x1="539.6" x2="609.9" y1="375.7" y2="375.7" stroke="#141eeb" stroke-opacity="0.5" stroke-width="4.2" stroke-linecap="round"/>
<line x1="539.6" x2="602.5" y1="375.2" y2="375.2" stroke="#141eeb" stroke-opacity="0.5" stroke-width="4.2" stroke-linecap="round"/>
<line x1="539.6" x2="639.3" y1="375.3" y2="375.3" stroke="#141eeb" stroke-opacity="0.5" stroke-width="4.2" stroke-linecap="round"/>
<line x1="539.6" x2="586.3" y1="379.3" y2="379.3" stroke="#141eeb" stroke-opacity="0.5" stroke-width="4.2" stroke-linecap="round"/>
<line x1="539.6" x2="579.2" y1="378.9" y2="378.9" stroke="#141eeb" stroke-opacity="0.5" stroke-width="4.2" stroke-linecap="round"/>
<line x1="539.6" x2="594.1" y1="379.2" y2="379.2" stroke="#141eeb" stroke-opacity="0.5" stroke-width="4.2" stroke-linecap="round"/>
<line x1="539.6" x2="594.6" y1="382.1" y2="382.1" stroke="#141eeb" stroke-opacity="0.5" stroke-width="4.2" stroke-linecap="round"/>
<line x1="539.6" x2="577.6" y1="382.1" y2="382.1" stroke="#141eeb" stroke-opacity="0.5" stroke-width="4.2" stroke-linecap="round"/>
<line x1="539.6" x2="643.3" y1="382.8" y2="382.8" stroke="#141eeb" stroke-opacity="0.5" stroke-width="4.2" stroke-linecap="round"/>
<line x1="539.6" x2="645.9" y1="381.7" y2="381.7" stroke="#141eeb" stroke-opacity="0.5" stroke-width="4.2" stroke-linecap="round"/>
<line x1="539.6" x2="586.3" y1="385.3" y2="385.3" stroke="#141eeb" stroke-opacity="0.5" stroke-width="4.2" stroke-linecap="round"/>
<line x1="539.6" x2="583.1" y1="385.0" y2="385.0" stroke="#141eeb" stroke-opacity="0.5" stroke-width="4.2" stroke-linecap="round"/>
<line x1="539.6" x2="628.0" y1="385.1" y2="385.1" stroke="#141eeb" stroke-opacity="0.5" stroke-width="4.2" stroke-linecap="round"/>
<line x1="539.6" x2="569.6" y1="389.4" y2="389.4" stroke="#141eeb" stroke-opacity="0.5" stroke-width="4.2" stroke-linecap="round"/>
<line x1="539.6" x2="582.2" y1="388.4" y2="388.4" stroke="#141eeb" stroke-opacity="0.5" stroke-width="4.2" stroke-linecap="round"/>
<line x1="539.6" x2="601.5" y1="389.3" y2="389.3" stroke="#141eeb" stroke-opacity="0.5" stroke-width="4.2" stroke-linecap="round"/>
<line x1="539.6" x2="620.5" y1="389.3" y2="389.3" stroke="#141eeb" stroke-opacity="0.5" stroke-width="4.2" stroke-linecap="round"/>
<line x1="539.6" x2="588.4" y1="392.8" y2="392.8" stroke="#141eeb" stroke-opacity="0.5" stroke-width="4.2" stroke-linecap="round"/>
<line x1="539.6" x2="606.2" y1="391.9" y2="391.9" stroke="#141eeb" stroke-opacity="0.5" stroke-width="4.2" stroke-linecap="round"/>
<line x1="539.6" x2="629.6" y1="392.4" y2="392.4" stroke="#141eeb" stroke-opacity="0.5" stroke-width="4.2" stroke-linecap="round"/>
<line x1="539.6" x2="574.6" y1="396.4" y2="396.4" stroke="#141eeb" stroke-opacity="0.5" stroke-width="4.2" stroke-linecap="round"/>
<line x1="539.6" x2="605.7" y1="395.2" y2="395.2" stroke="#141eeb" stroke-opacity="0.5" stroke-width="4.2" stroke-linecap="round"/>
<line x1="539.6" x2="626.0" y1="396.2" y2="396.2" stroke="#141eeb" stroke-opacity="0.5" stroke-width="4.2" stroke-linecap="round"/>
<line x1="539.6" x2="638.8" y1="396.1" y2="396.1" stroke="#141eeb" stroke-opacity="0.5" stroke-width="4.2" stroke-linecap="round"/>
<line x1="539.6" x2="572.0" y1="399.6" y2="399.6" stroke="#141eeb" stroke-opacity="0.5" stroke-width="4.2" stroke-linecap="round"/>
<line x1="539.6" x2="596.5" y1="398.7" y2="398.7" stroke="#141eeb" stroke-opacity="0.5" stroke-width="4.2" stroke-linecap="round"/>
<line x1="539.6" x2="621.5" y1="399.1" y2="399.1" stroke="#141eeb" stroke-opacity="0.5" stroke-width="4.2" stroke-linecap="round"/>
<line x1="539.6" x2="571.3" y1="403.0" y2="403.0" stroke="#141eeb" stroke-opacity="0.5" stroke-width="4.2" stroke-linecap="round"/>
<line x1="539.6" x2="591.5" y1="402.8" y2="402.8" stroke="#141eeb" stroke-opacity="0.5" stroke-width="4.2" stroke-linecap="round"/>
<line x1="539.6" x2="612.1" y1="402.5" y2="402.5" stroke="#141eeb" stroke-opacity="0.5" stroke-width="4.2" stroke-linecap="round"/>
<line x1="539.6" x2="595.3" y1="406.3" y2="406.3" stroke="#141eeb" stroke-opacity="0.5" stroke-width="4.2" stroke-linecap="round"/>
<line x1="539.6" x2="599.7" y1="405.8" y2="405.8" stroke="#141eeb" stroke-opacity="0.5" stroke-width="4.2" stroke-linecap="round"/>
<line x1="539.6" x2="645.4" y1="406.2" y2="406.2" stroke="#141eeb" stroke-opacity="0.5" stroke-width="4.2" stroke-linecap="round"/>
<line x1="539.6" x2="577.0" y1="409.5" y2="409.5" stroke="#141eeb" stroke-opacity="0.5" stroke-width="4.2" stroke-linecap="round"/>
<line x1="539.6" x2="616.1" y1="409.8" y2="409.8" stroke="#141eeb" stroke-opacity="0.5" stroke-width="4.2" stroke-linecap="round"/>
<line x1="539.6" x2="605.5" y1="409.3" y2="409.3" stroke="#141eeb" stroke-opacity="0.5" stroke-width="4.2" stroke-linecap="round"/>
<line x1="539.6" x2="578.3" y1="413.0" y2="413.0" stroke="#141eeb" stroke-opacity="0.5" stroke-width="4.2" stroke-linecap="round"/>
<line x1="539.6" x2="601.1" y1="413.3" y2="413.3" stroke="#141eeb" stroke-opacity="0.5" stroke-width="4.2" stroke-linecap="round"/>
<line x1="539.6" x2="604.0" y1="412.2" y2="412.2" stroke="#141eeb" stroke-opacity="0.5" stroke-width="4.2" stroke-linecap="round"/>
<line x1="539.6" x2="646.6" y1="412.9" y2="412.9" stroke="#141eeb" stroke-opacity="0.5" stroke-width="4.2" stroke-linecap="round"/>
<line x1="539.6" x2="591.5" y1="416.7" y2="416.7" stroke="#141eeb" stroke-opacity="0.5" stroke-width="4.2" stroke-linecap="round"/>
<line x1="539.6" x2="578.7" y1="416.6" y2="416.6" stroke="#141eeb" stroke-opacity="0.5" stroke-width="4.2" stroke-linecap="round"/>
<line x1="539.6" x2="639.0" y1="416.3" y2="416.3" stroke="#141eeb" stroke-opacity="0.5" stroke-width="4.2" stroke-linecap="round"/>
<line x1="539.6" x2="676.6" y1="416.6" y2="416.6" stroke="#141eeb" stroke-opacity="0.5" stroke-width="4.2" stroke-linecap="round"/>
<line x1="539.6" x2="587.5" y1="420.1" y2="420.1" stroke="#141eeb" stroke-opacity="0.5" stroke-width="4.2" stroke-linecap="round"/>
<line x1="539.6" x2="590.9" y1="419.1" y2="419.1" stroke="#141eeb" stroke-opacity="0.5" stroke-width="4.2" stroke-linecap="round"/>
<line x1="539.6" x2="634.8" y1="419.2" y2="419.2" stroke="#141eeb" stroke-opacity="0.5" stroke-width="4.2" stroke-linecap="round"/>
<line x1="539.6" x2="595.0" y1="422.7" y2="422.7" stroke="#141eeb" stroke-opacity="0.5" stroke-width="4.2" stroke-linecap="round"/>
<line x1="539.6" x2="601.3" y1="423.2" y2="423.2" stroke="#141eeb" stroke-opacity="0.5" stroke-width="4.2" stroke-linecap="round"/>
<line x1="539.6" x2="599.4" y1="422.7" y2="422.7" stroke="#141eeb" stroke-opacity="0.5" stroke-width="4.2" stroke-linecap="round"/>
<line x1="539.6" x2="590.7" y1="426.4" y2="426.4" stroke="#141eeb" stroke-opacity="0.5" stroke-width="4.2" stroke-linecap="round"/>
<line x1="539.6" x2="580.5" y1="426.8" y2="426.8" stroke="#141eeb" stroke-opacity="0.5" stroke-width="4.2" stroke-linecap="round"/>
<line x1="539.6" x2="601.0" y1="426.5" y2="426.5" stroke="#141eeb" stroke-opacity="0.5" stroke-width="4.2" stroke-linecap="round"/>
<line x1="539.6" x2="593.6" y1="429.8" y2="429.8" stroke="#141eeb" stroke-opacity="0.5" stroke-width="4.2" stroke-linecap="round"/>
<line x1="539.6" x2="596.1" y1="429.9" y2="429.9" stroke="#141eeb" stroke-opacity="0.5" stroke-width="4.2" stroke-linecap="round"/>
<line x1="539.6" x2="598.5" y1="429.4" y2="429.4" stroke="#141eeb" stroke-opacity="0.5" stroke-width="4.2" stroke-linecap="round"/>
<line x1="539.6" x2="577.9" y1="433.3" y2="433.3" stroke="#141eeb" stroke-opacity="0.5" stroke-width="4.2" stroke-linecap="round"/>
<line x1="539.6" x2="593.1" y1="433.2" y2="433.2" stroke="#141eeb" stroke-opacity="0.5" stroke-width="4.2" stroke-linecap="round"/>
<line x1="539.6" x2="589.7" y1="433.8" y2="433.8" stroke="#141eeb" stroke-opacity="0.5" stroke-width="4.2" stroke-linecap="round"/>
<line x1="539.6" x2="624.4" y1="433.4" y2="433.4" stroke="#141eeb" stroke-opacity="0.5" stroke-width="4.2" stroke-linecap="round"/>
<line x1="539.6" x2="590.6" y1="436.2" y2="436.2" stroke="#141eeb" stroke-opacity="0.5" stroke-width="4.2" stroke-linecap="round"/>
<line x1="539.6" x2="600.9" y1="436.4" y2="436.4" stroke="#141eeb" stroke-opacity="0.5" stroke-width="4.2" stroke-linecap="round"/>
<line x1="539.6" x2="588.2" y1="436.0" y2="436.0" stroke="#141eeb" stroke-opacity="0.5" stroke-width="4.2" stroke-linecap="round"/>
<line x1="539.6" x2="593.0" y1="440.0" y2="440.0" stroke="#141eeb" stroke-opacity="0.5" stroke-width="4.2" stroke-linecap="round"/>
<line x1="539.6" x2="599.7" y1="439.7" y2="439.7" stroke="#141eeb" stroke-opacity="0.5" stroke-width="4.2" stroke-linecap="round"/>
<line x1="539.6" x2="612.6" y1="440.5" y2="440.5" stroke="#141eeb" stroke-opacity="0.5" stroke-width="4.2" stroke-linecap="round"/>
<line x1="539.6" x2="591.6" y1="444.0" y2="444.0" stroke="#141eeb" stroke-opacity="0.5" stroke-width="4.2" stroke-linecap="round"/>
<line x1="539.6" x2="587.2" y1="442.8" y2="442.8" stroke="#141eeb" stroke-opacity="0.5" stroke-width="4.2" stroke-linecap="round"/>
<line x1="539.6" x2="597.8" y1="442.9" y2="442.9" stroke="#141eeb" stroke-opacity="0.5" stroke-width="4.2" stroke-linecap="round"/>
<line x1="539.6" x2="656.0" y1="443.8" y2="443.8" stroke="#141eeb" stroke-opacity="0.5" stroke-width="4.2" stroke-linecap="round"/>
<line x1="539.6" x2="580.7" y1="447.3" y2="447.3" stroke="#141eeb" stroke-opacity="0.5" stroke-width="4.2" stroke-linecap="round"/>
<line x1="539.6" x2="613.4" y1="446.3" y2="446.3" stroke="#141eeb" stroke-opacity="0.5" stroke-width="4.2" stroke-linecap="round"/>
<line x1="539.6" x2="610.8" y1="446.3" y2="446.3" stroke="#141eeb" stroke-opacity="0.5" stroke-width="4.2" stroke-linecap="round"/>
<line x1="539.6" x2="574.7" y1="450.3" y2="450.3" stroke="#141eeb" stroke-opacity="0.5" stroke-width="4.2" stroke-linecap="round"/>
<line x1="539.6" x2="602.6" y1="450.7" y2="450.7" stroke="#141eeb" stroke-opacity="0.5" stroke-width="4.2" stroke-linecap="round"/>
<line x1="539.6" x2="610.6" y1="450.1" y2="450.1" stroke="#141eeb" stroke-opacity="0.5" stroke-width="4.2" stroke-linecap="round"/>
<line x1="539.6" x2="684.6" y1="450.8" y2="450.8" stroke="#141eeb" stroke-opacity="0.5" stroke-width="4.2" stroke-linecap="round"/>
<line x1="539.6" x2="573.7" y1="453.0" y2="453.0" stroke="#141eeb" stroke-opacity="0.5" stroke-width="4.2" stroke-linecap="round"/>
<line x1="539.6" x2="587.2" y1="453.4" y2="453.4" stroke="#141eeb" stroke-opacity="0.5" stroke-width="4.2" stroke-linecap="round"/>
<line x1="539.6" x2="592.1" y1="456.5" y2="456.5" stroke="#141eeb" stroke-opacity="0.5" stroke-width="4.2" stroke-linecap="round"/>
<line x1="539.6" x2="608.5" y1="457.3" y2="457.3" stroke="#141eeb" stroke-opacity="0.5" stroke-width="4.2" stroke-linecap="round"/>
<line x1="539.6" x2="646.1" y1="456.5" y2="456.5" stroke="#141eeb" stroke-opacity="0.5" stroke-width="4.2" stroke-linecap="round"/>
<line x1="539.6" x2="669.8" y1="457.5" y2="457.5" stroke="#141eeb" stroke-opacity="0.5" stroke-width="4.2" stroke-linecap="round"/>
<line x1="539.6" x2="587.3" y1="460.2" y2="460.2" stroke="#141eeb" stroke-opacity="0.5" stroke-width="4.2" stroke-linecap="round"/>
<line x1="539.6" x2="600.7" y1="460.7" y2="460.7" stroke="#141eeb" stroke-opacity="0.5" stroke-width="4.2" stroke-linecap="round"/>
<line x1="539.6" x2="606.4" y1="460.1" y2="460.1" stroke="#141eeb" stroke-opacity="0.5" stroke-width="4.2" stroke-linecap="round"/>
<line x1="539.6" x2="650.7" y1="460.0" y2="460.0" stroke="#141eeb" stroke-opacity="0.5" stroke-width="4.2" stroke-linecap="round"/>
<line x1="539.6" x2="574.2" y1="463.4" y2="463.4" stroke="#141eeb" stroke-opacity="0.5" stroke-width="4.2" stroke-linecap="round"/>
<line x1="539.6" x2="604.1" y1="463.2" y2="463.2" stroke="#141eeb" stroke-opacity="0.5" stroke-width="4.2" stroke-linecap="round"/>
<line x1="539.6" x2="598.7" y1="463.2" y2="463.2" stroke="#141eeb" stroke-opacity="0.5" stroke-width="4.2" stroke-linecap="round"/>
<line x1="539.6" x2="573.6" y1="467.7" y2="467.7" stroke="#141eeb" stroke-opacity="0.5" stroke-width="4.2" stroke-linecap="round"/>
<line x1="539.6" x2="611.7" y1="467.7" y2="467.7" stroke="#141eeb" stroke-opacity="0.5" stroke-width="4.2" stroke-linecap="round"/>
<line x1="539.6" x2="613.8" y1="466.7" y2="466.7" stroke="#141eeb" stroke-opacity="0.5" stroke-width="4.2" stroke-linecap="round"/>
<line x1="539.7" x2="592.3" y1="470.8" y2="470.8" stroke="#141eeb" stroke-opacity="0.5" stroke-width="4.2" stroke-linecap="round"/>
<line x1="539.7" x2="595.1" y1="470.4" y2="470.4" stroke="#141eeb" stroke-opacity="0.5" stroke-width="4.2" stroke-linecap="round"/>
<line x1="539.7" x2="615.7" y1="470.8" y2="470.8" stroke="#141eeb" stroke-opacity="0.5" stroke-width="4.2" stroke-linecap="round"/>
<line x1="539.7" x2="632.5" y1="470.1" y2="470.1" stroke="#141eeb" stroke-opacity="0.5" stroke-width="4.2" stroke-linecap="round"/>
<line x1="540.0" x2="588.4" y1="474.1" y2="474.1" stroke="#141eeb" stroke-opacity="0.5" stroke-width="4.2" stroke-linecap="round"/>
<line x1="540.0" x2="582.8" y1="474.4" y2="474.4" stroke="#141eeb" stroke-opacity="0.5" stroke-width="4.2" stroke-linecap="round"/>
<line x1="540.0" x2="611.7" y1="473.6" y2="473.6" stroke="#141eeb" stroke-opacity="0.5" stroke-width="4.2" stroke-linecap="round"/>
<line x1="540.0" x2="675.8" y1="473.8" y2="473.8" stroke="#141eeb" stroke-opacity="0.5" stroke-width="4.2" stroke-linecap="round"/>
<line x1="540.7" x2="572.0" y1="477.4" y2="477.4" stroke="#141eeb" stroke-opacity="0.5" stroke-width="4.2" stroke-linecap="round"/>
<line x1="540.7" x2="589.7" y1="477.9" y2="477.9" stroke="#141eeb" stroke-opacity="0.5" stroke-width="4.2" stroke-linecap="round"/>
<line x1="540.7" x2="645.7" y1="476.9" y2="476.9" stroke="#141eeb" stroke-opacity="0.5" stroke-width="4.2" stroke-linecap="round"/>
<line x1="541.6" x2="587.0" y1="480.5" y2="480.5" stroke="#141eeb" stroke-opacity="0.5" stroke-width="4.2" stroke-linecap="round"/>
<line x1="541.6" x2="596.1" y1="480.5" y2="480.5" stroke="#141eeb" stroke-opacity="0.5" stroke-width="4.2" stroke-linecap="round"/>
<line x1="541.6" x2="599.1" y1="480.6" y2="480.6" stroke="#141eeb" stroke-opacity="0.5" stroke-width="4.2" stroke-linecap="round"/>
<line x1="542.7" x2="596.9" y1="484.7" y2="484.7" stroke="#141eeb" stroke-opacity="0.5" stroke-width="4.2" stroke-linecap="round"/>
<line x1="542.7" x2="580.9" y1="483.9" y2="483.9" stroke="#141eeb" stroke-opacity="0.5" stroke-width="4.2" stroke-linecap="round"/>
<line x1="542.7" x2="590.4" y1="484.5" y2="484.5" stroke="#141eeb" stroke-opacity="0.5" stroke-width="4.2" stroke-linecap="round"/>
<line x1="542.7" x2="685.5" y1="483.6" y2="483.6" stroke="#141eeb" stroke-opacity="0.5" stroke-width="4.2" stroke-linecap="round"/>
<line x1="544.2" x2="591.2" y1="487.4" y2="487.4" stroke="#141eeb" stroke-opacity="0.5" stroke-width="4.2" stroke-linecap="round"/>
<line x1="544.2" x2="582.6" y1="487.0" y2="487.0" stroke="#141eeb" stroke-opacity="0.5" stroke-width="4.2" stroke-linecap="round"/>
<line x1="544.2" x2="618.6" y1="487.2" y2="487.2" stroke="#141eeb" stroke-opacity="0.5" stroke-width="4.2" stroke-linecap="round"/>
<line x1="544.2" x2="680.8" y1="487.3" y2="487.3" stroke="#141eeb" stroke-opacity="0.5" stroke-width="4.2" stroke-linecap="round"/>
<line x1="317.0" x2="372.0" y1="251.5" y2="251.5" stroke="#c01060" stroke-opacity="0.28" stroke-width="3.2" stroke-linecap="round"/>
<line x1="134.0" x2="345.0" y1="415.0" y2="415.0" stroke="#e01428" stroke-opacity="0.6" stroke-width="4.0" stroke-linecap="round"/>
<line x1="539.6" x2="662.0" y1="252.0" y2="252.0" stroke="#b01070" stroke-opacity="0.3" stroke-width="3.0" stroke-linecap="round"/>
<line x1="278.0" x2="384.4" y1="129.6" y2="129.6" stroke="#141eeb" stroke-opacity="0.5" stroke-width="4.2" stroke-linecap="round"/>
<line x1="327.0" x2="384.4" y1="132.0" y2="132.0" stroke="#141eeb" stroke-opacity="0.5" stroke-width="4.2" stroke-linecap="round"/>
<line x1="345.0" x2="384.4" y1="135.6" y2="135.6" stroke="#141eeb" stroke-opacity="0.5" stroke-width="4.2" stroke-linecap="round"/>
<line x1="198.5" x2="384.4" y1="139.4" y2="139.4" stroke="#141eeb" stroke-opacity="0.5" stroke-width="4.2" stroke-linecap="round"/>
<line x1="301.0" x2="384.4" y1="141.6" y2="141.6" stroke="#141eeb" stroke-opacity="0.5" stroke-width="4.2" stroke-linecap="round"/>
<line x1="265.0" x2="384.4" y1="145.0" y2="145.0" stroke="#141eeb" stroke-opacity="0.5" stroke-width="4.2" stroke-linecap="round"/>
<line x1="242.0" x2="384.4" y1="149.0" y2="149.0" stroke="#141eeb" stroke-opacity="0.5" stroke-width="4.2" stroke-linecap="round"/>
<line x1="301.0" x2="384.4" y1="152.6" y2="152.6" stroke="#141eeb" stroke-opacity="0.5" stroke-width="4.2" stroke-linecap="round"/>
<line x1="263.0" x2="384.4" y1="156.0" y2="156.0" stroke="#141eeb" stroke-opacity="0.5" stroke-width="4.2" stroke-linecap="round"/>
<line x1="318.0" x2="384.4" y1="159.6" y2="159.6" stroke="#141eeb" stroke-opacity="0.5" stroke-width="4.2" stroke-linecap="round"/>
<line x1="332.0" x2="384.4" y1="163.0" y2="163.0" stroke="#141eeb" stroke-opacity="0.5" stroke-width="4.2" stroke-linecap="round"/>
<line x1="200.0" x2="384.4" y1="166.5" y2="166.5" stroke="#141eeb" stroke-opacity="0.5" stroke-width="4.2" stroke-linecap="round"/>
<line x1="171.0" x2="384.4" y1="169.8" y2="169.8" stroke="#141eeb" stroke-opacity="0.5" stroke-width="4.2" stroke-linecap="round"/>
<line x1="260.0" x2="384.4" y1="173.0" y2="173.0" stroke="#141eeb" stroke-opacity="0.5" stroke-width="4.2" stroke-linecap="round"/>
<line x1="276.0" x2="384.4" y1="177.7" y2="177.7" stroke="#141eeb" stroke-opacity="0.5" stroke-width="4.2" stroke-linecap="round"/>
<line x1="201.5" x2="384.4" y1="182.5" y2="182.5" stroke="#141eeb" stroke-opacity="0.5" stroke-width="4.2" stroke-linecap="round"/>
<line x1="239.0" x2="384.4" y1="184.4" y2="184.4" stroke="#141eeb" stroke-opacity="0.5" stroke-width="4.2" stroke-linecap="round"/>
<line x1="283.0" x2="384.4" y1="188.0" y2="188.0" stroke="#141eeb" stroke-opacity="0.5" stroke-width="4.2" stroke-linecap="round"/>
<line x1="224.0" x2="384.4" y1="192.0" y2="192.0" stroke="#141eeb" stroke-opacity="0.5" stroke-width="4.2" stroke-linecap="round"/>
<line x1="283.0" x2="384.4" y1="195.0" y2="195.0" stroke="#141eeb" stroke-opacity="0.5" stroke-width="4.2" stroke-linecap="round"/>
<line x1="295.0" x2="384.4" y1="199.3" y2="199.3" stroke="#141eeb" stroke-opacity="0.5" stroke-width="4.2" stroke-linecap="round"/>
<line x1="278.0" x2="384.4" y1="203.0" y2="203.0" stroke="#141eeb" stroke-opacity="0.5" stroke-width="4.2" stroke-linecap="round"/>
<line x1="276.0" x2="384.4" y1="207.0" y2="207.0" stroke="#141eeb" stroke-opacity="0.5" stroke-width="4.2" stroke-linecap="round"/>
<line x1="295.0" x2="384.4" y1="210.5" y2="210.5" stroke="#141eeb" stroke-opacity="0.5" stroke-width="4.2" stroke-linecap="round"/>
<line x1="254.0" x2="384.4" y1="214.0" y2="214.0" stroke="#141eeb" stroke-opacity="0.5" stroke-width="4.2" stroke-linecap="round"/>
<line x1="162.0" x2="384.4" y1="217.6" y2="217.6" stroke="#141eeb" stroke-opacity="0.5" stroke-width="4.2" stroke-linecap="round"/>
<line x1="163.0" x2="384.4" y1="217.9" y2="217.9" stroke="#141eeb" stroke-opacity="0.5" stroke-width="4.2" stroke-linecap="round"/>
<line x1="114.0" x2="384.4" y1="221.0" y2="221.0" stroke="#141eeb" stroke-opacity="0.5" stroke-width="4.2" stroke-linecap="round"/>
<line x1="302.0" x2="384.4" y1="224.7" y2="224.7" stroke="#141eeb" stroke-opacity="0.5" stroke-width="4.2" stroke-linecap="round"/>
<line x1="280.0" x2="384.4" y1="229.0" y2="229.0" stroke="#141eeb" stroke-opacity="0.5" stroke-width="4.2" stroke-linecap="round"/>
<line x1="287.0" x2="384.4" y1="231.8" y2="231.8" stroke="#141eeb" stroke-opacity="0.5" stroke-width="4.2" stroke-linecap="round"/>
<line x1="161.0" x2="384.4" y1="234.8" y2="234.8" stroke="#141eeb" stroke-opacity="0.5" stroke-width="4.2" stroke-linecap="round"/>
<line x1="162.0" x2="384.4" y1="235.1" y2="235.1" stroke="#141eeb" stroke-opacity="0.5" stroke-width="4.2" stroke-linecap="round"/>
<line x1="183.0" x2="384.4" y1="239.6" y2="239.6" stroke="#141eeb" stroke-opacity="0.5" stroke-width="4.2" stroke-linecap="round"/>
<line x1="259.0" x2="384.4" y1="244.0" y2="244.0" stroke="#141eeb" stroke-opacity="0.5" stroke-width="4.2" stroke-linecap="round"/>
<line x1="259.0" x2="384.4" y1="247.0" y2="247.0" stroke="#141eeb" stroke-opacity="0.5" stroke-width="4.2" stroke-linecap="round"/>
<line x1="79.0" x2="384.4" y1="254.7" y2="254.7" stroke="#141eeb" stroke-opacity="0.5" stroke-width="4.2" stroke-linecap="round"/>
<line x1="211.0" x2="384.4" y1="256.8" y2="256.8" stroke="#141eeb" stroke-opacity="0.5" stroke-width="4.2" stroke-linecap="round"/>
<line x1="158.6" x2="384.4" y1="260.6" y2="260.6" stroke="#141eeb" stroke-opacity="0.5" stroke-width="4.2" stroke-linecap="round"/>
<line x1="222.0" x2="384.4" y1="265.5" y2="265.5" stroke="#141eeb" stroke-opacity="0.5" stroke-width="4.2" stroke-linecap="round"/>
<line x1="250.0" x2="384.4" y1="268.0" y2="268.0" stroke="#141eeb" stroke-opacity="0.5" stroke-width="4.2" stroke-linecap="round"/>
<line x1="208.0" x2="384.4" y1="272.5" y2="272.5" stroke="#141eeb" stroke-opacity="0.5" stroke-width="4.2" stroke-linecap="round"/>
<line x1="254.0" x2="384.4" y1="276.0" y2="276.0" stroke="#141eeb" stroke-opacity="0.5" stroke-width="4.2" stroke-linecap="round"/>
<line x1="242.0" x2="384.4" y1="281.5" y2="281.5" stroke="#141eeb" stroke-opacity="0.5" stroke-width="4.2" stroke-linecap="round"/>
<line x1="283.0" x2="384.4" y1="283.5" y2="283.5" stroke="#141eeb" stroke-opacity="0.5" stroke-width="4.2" stroke-linecap="round"/>
<line x1="170.0" x2="384.4" y1="287.4" y2="287.4" stroke="#141eeb" stroke-opacity="0.5" stroke-width="4.2" stroke-linecap="round"/>
<line x1="115.0" x2="384.4" y1="290.4" y2="290.4" stroke="#141eeb" stroke-opacity="0.5" stroke-width="4.2" stroke-linecap="round"/>
<line x1="308.0" x2="384.4" y1="294.0" y2="294.0" stroke="#141eeb" stroke-opacity="0.5" stroke-width="4.2" stroke-linecap="round"/>
<line x1="317.0" x2="384.4" y1="297.8" y2="297.8" stroke="#141eeb" stroke-opacity="0.5" stroke-width="4.2" stroke-linecap="round"/>
<line x1="272.0" x2="384.4" y1="300.8" y2="300.8" stroke="#141eeb" stroke-opacity="0.5" stroke-width="4.2" stroke-linecap="round"/>
<line x1="261.0" x2="384.4" y1="303.8" y2="303.8" stroke="#141eeb" stroke-opacity="0.5" stroke-width="4.2" stroke-linecap="round"/>
<line x1="138.0" x2="384.4" y1="307.5" y2="307.5" stroke="#141eeb" stroke-opacity="0.5" stroke-width="4.2" stroke-linecap="round"/>
<line x1="196.0" x2="384.4" y1="310.5" y2="310.5" stroke="#141eeb" stroke-opacity="0.5" stroke-width="4.2" stroke-linecap="round"/>
<line x1="79.0" x2="384.4" y1="313.9" y2="313.9" stroke="#141eeb" stroke-opacity="0.5" stroke-width="4.2" stroke-linecap="round"/>
<line x1="269.0" x2="384.4" y1="317.0" y2="317.0" stroke="#141eeb" stroke-opacity="0.5" stroke-width="4.2" stroke-linecap="round"/>
<line x1="254.0" x2="384.4" y1="319.8" y2="319.8" stroke="#141eeb" stroke-opacity="0.5" stroke-width="4.2" stroke-linecap="round"/>
<line x1="155.0" x2="384.4" y1="323.0" y2="323.0" stroke="#141eeb" stroke-opacity="0.5" stroke-width="4.2" stroke-linecap="round"/>
<line x1="317.0" x2="384.4" y1="327.0" y2="327.0" stroke="#141eeb" stroke-opacity="0.5" stroke-width="4.2" stroke-linecap="round"/>
<line x1="214.0" x2="384.4" y1="331.8" y2="331.8" stroke="#141eeb" stroke-opacity="0.5" stroke-width="4.2" stroke-linecap="round"/>
<line x1="261.0" x2="384.4" y1="334.4" y2="334.4" stroke="#141eeb" stroke-opacity="0.5" stroke-width="4.2" stroke-linecap="round"/>
<line x1="239.0" x2="384.4" y1="336.6" y2="336.6" stroke="#141eeb" stroke-opacity="0.5" stroke-width="4.2" stroke-linecap="round"/>
<line x1="231.0" x2="384.4" y1="339.6" y2="339.6" stroke="#141eeb" stroke-opacity="0.5" stroke-width="4.2" stroke-linecap="round"/>
<line x1="242.5" x2="384.4" y1="343.0" y2="343.0" stroke="#141eeb" stroke-opacity="0.5" stroke-width="4.2" stroke-linecap="round"/>
<line x1="254.0" x2="384.4" y1="346.7" y2="346.7" stroke="#141eeb" stroke-opacity="0.5" stroke-width="4.2" stroke-linecap="round"/>
<line x1="336.0" x2="384.4" y1="349.7" y2="349.7" stroke="#141eeb" stroke-opacity="0.5" stroke-width="4.2" stroke-linecap="round"/>
<line x1="320.0" x2="384.4" y1="353.4" y2="353.4" stroke="#141eeb" stroke-opacity="0.5" stroke-width="4.2" stroke-linecap="round"/>
<line x1="336.0" x2="384.4" y1="356.8" y2="356.8" stroke="#141eeb" stroke-opacity="0.5" stroke-width="4.2" stroke-linecap="round"/>
<line x1="254.0" x2="384.4" y1="359.8" y2="359.8" stroke="#141eeb" stroke-opacity="0.5" stroke-width="4.2" stroke-linecap="round"/>
<line x1="25.0" x2="384.4" y1="363.0" y2="363.0" stroke="#141eeb" stroke-opacity="0.5" stroke-width="4.2" stroke-linecap="round"/>
<line x1="155.0" x2="384.4" y1="366.5" y2="366.5" stroke="#141eeb" stroke-opacity="0.5" stroke-width="4.2" stroke-linecap="round"/>
<line x1="262.0" x2="384.4" y1="369.0" y2="369.0" stroke="#141eeb" stroke-opacity="0.5" stroke-width="4.2" stroke-linecap="round"/>
<line x1="328.0" x2="384.4" y1="373.0" y2="373.0" stroke="#141eeb" stroke-opacity="0.5" stroke-width="4.2" stroke-linecap="round"/>
<line x1="308.0" x2="384.4" y1="377.7" y2="377.7" stroke="#141eeb" stroke-opacity="0.5" stroke-width="4.2" stroke-linecap="round"/>
<line x1="325.0" x2="384.4" y1="380.0" y2="380.0" stroke="#141eeb" stroke-opacity="0.5" stroke-width="4.2" stroke-linecap="round"/>
<line x1="160.0" x2="384.4" y1="382.2" y2="382.2" stroke="#141eeb" stroke-opacity="0.5" stroke-width="4.2" stroke-linecap="round"/>
<line x1="160.0" x2="384.4" y1="384.0" y2="384.0" stroke="#141eeb" stroke-opacity="0.5" stroke-width="4.2" stroke-linecap="round"/>
<line x1="9.5" x2="384.4" y1="386.6" y2="386.6" stroke="#141eeb" stroke-opacity="0.5" stroke-width="4.2" stroke-linecap="round"/>
<line x1="201.0" x2="384.4" y1="390.4" y2="390.4" stroke="#141eeb" stroke-opacity="0.5" stroke-width="4.2" stroke-linecap="round"/>
<line x1="280.0" x2="384.4" y1="393.4" y2="393.4" stroke="#141eeb" stroke-opacity="0.5" stroke-width="4.2" stroke-linecap="round"/>
<line x1="321.0" x2="384.4" y1="396.0" y2="396.0" stroke="#141eeb" stroke-opacity="0.5" stroke-width="4.2" stroke-linecap="round"/>
<line x1="297.0" x2="384.4" y1="399.0" y2="399.0" stroke="#141eeb" stroke-opacity="0.5" stroke-width="4.2" stroke-linecap="round"/>
<line x1="242.5" x2="384.4" y1="402.0" y2="402.0" stroke="#141eeb" stroke-opacity="0.5" stroke-width="4.2" stroke-linecap="round"/>
<line x1="254.0" x2="384.4" y1="404.0" y2="404.0" stroke="#141eeb" stroke-opacity="0.5" stroke-width="4.2" stroke-linecap="round"/>
<line x1="267.0" x2="384.4" y1="409.0" y2="409.0" stroke="#141eeb" stroke-opacity="0.5" stroke-width="4.2" stroke-linecap="round"/>
<line x1="175.0" x2="384.4" y1="412.0" y2="412.0" stroke="#141eeb" stroke-opacity="0.5" stroke-width="4.2" stroke-linecap="round"/>
<line x1="180.0" x2="384.4" y1="417.5" y2="417.5" stroke="#141eeb" stroke-opacity="0.5" stroke-width="4.2" stroke-linecap="round"/>
<line x1="306.0" x2="384.4" y1="421.0" y2="421.0" stroke="#141eeb" stroke-opacity="0.5" stroke-width="4.2" stroke-linecap="round"/>
<line x1="294.0" x2="384.4" y1="423.4" y2="423.4" stroke="#141eeb" stroke-opacity="0.5" stroke-width="4.2" stroke-linecap="round"/>
<line x1="310.0" x2="384.4" y1="427.0" y2="427.0" stroke="#141eeb" stroke-opacity="0.5" stroke-width="4.2" stroke-linecap="round"/>
<line x1="157.0" x2="384.4" y1="430.0" y2="430.0" stroke="#141eeb" stroke-opacity="0.5" stroke-width="4.2" stroke-linecap="round"/>
<line x1="200.0" x2="384.4" y1="431.6" y2="431.6" stroke="#141eeb" stroke-opacity="0.5" stroke-width="4.2" stroke-linecap="round"/>
<line x1="239.0" x2="384.4" y1="433.7" y2="433.7" stroke="#141eeb" stroke-opacity="0.5" stroke-width="4.2" stroke-linecap="round"/>
<line x1="254.0" x2="384.4" y1="437.4" y2="437.4" stroke="#141eeb" stroke-opacity="0.5" stroke-width="4.2" stroke-linecap="round"/>
<line x1="141.0" x2="384.4" y1="441.0" y2="441.0" stroke="#141eeb" stroke-opacity="0.5" stroke-width="4.2" stroke-linecap="round"/>
<line x1="117.5" x2="384.4" y1="444.9" y2="444.9" stroke="#141eeb" stroke-opacity="0.5" stroke-width="4.2" stroke-linecap="round"/>
<line x1="9.5" x2="384.4" y1="447.8" y2="447.8" stroke="#141eeb" stroke-opacity="0.5" stroke-width="4.2" stroke-linecap="round"/>
<line x1="9.5" x2="384.4" y1="451.0" y2="451.0" stroke="#141eeb" stroke-opacity="0.5" stroke-width="4.2" stroke-linecap="round"/>
<line x1="99.0" x2="384.4" y1="451.0" y2="451.0" stroke="#141eeb" stroke-opacity="0.5" stroke-width="4.2" stroke-linecap="round"/>
<line x1="192.0" x2="384.4" y1="454.0" y2="454.0" stroke="#141eeb" stroke-opacity="0.5" stroke-width="4.2" stroke-linecap="round"/>
<line x1="276.0" x2="384.4" y1="457.0" y2="457.0" stroke="#141eeb" stroke-opacity="0.5" stroke-width="4.2" stroke-linecap="round"/>
<line x1="179.0" x2="384.4" y1="459.7" y2="459.7" stroke="#141eeb" stroke-opacity="0.5" stroke-width="4.2" stroke-linecap="round"/>
<line x1="279.0" x2="384.4" y1="462.5" y2="462.5" stroke="#141eeb" stroke-opacity="0.5" stroke-width="4.2" stroke-linecap="round"/>
<line x1="321.0" x2="384.4" y1="465.4" y2="465.4" stroke="#141eeb" stroke-opacity="0.5" stroke-width="4.2" stroke-linecap="round"/>
<line x1="172.0" x2="384.4" y1="469.5" y2="469.5" stroke="#141eeb" stroke-opacity="0.5" stroke-width="4.2" stroke-linecap="round"/>
<line x1="293.0" x2="384.4" y1="472.6" y2="472.6" stroke="#141eeb" stroke-opacity="0.5" stroke-width="4.2" stroke-linecap="round"/>
<line x1="239.5" x2="384.4" y1="475.5" y2="475.5" stroke="#141eeb" stroke-opacity="0.5" stroke-width="4.2" stroke-linecap="round"/>
<line x1="321.0" x2="384.4" y1="479.0" y2="479.0" stroke="#141eeb" stroke-opacity="0.5" stroke-width="4.2" stroke-linecap="round"/>
<line x1="326.5" x2="384.4" y1="481.5" y2="481.5" stroke="#141eeb" stroke-opacity="0.5" stroke-width="4.2" stroke-linecap="round"/>
<line x1="141.0" x2="384.4" y1="415.1" y2="415.1" stroke="#141eeb" stroke-opacity="0.5" stroke-width="4.2" stroke-linecap="round"/>
<line x1="539.6" x2="754.0" y1="117.5" y2="117.5" stroke="#141eeb" stroke-opacity="0.5" stroke-width="4.2" stroke-linecap="round"/>
<line x1="539.6" x2="750.0" y1="120.0" y2="120.0" stroke="#141eeb" stroke-opacity="0.5" stroke-width="4.2" stroke-linecap="round"/>
<line x1="539.6" x2="653.0" y1="123.8" y2="123.8" stroke="#141eeb" stroke-opacity="0.5" stroke-width="4.2" stroke-linecap="round"/>
<line x1="539.6" x2="631.0" y1="126.4" y2="126.4" stroke="#141eeb" stroke-opacity="0.5" stroke-width="4.2" stroke-linecap="round"/>
<line x1="539.6" x2="610.0" y1="130.5" y2="130.5" stroke="#141eeb" stroke-opacity="0.5" stroke-width="4.2" stroke-linecap="round"/>
<line x1="539.6" x2="772.5" y1="133.0" y2="133.0" stroke="#141eeb" stroke-opacity="0.5" stroke-width="4.2" stroke-linecap="round"/>
<line x1="539.6" x2="804.0" y1="135.7" y2="135.7" stroke="#141eeb" stroke-opacity="0.5" stroke-width="4.2" stroke-linecap="round"/>
<line x1="539.6" x2="756.0" y1="137.6" y2="137.6" stroke="#141eeb" stroke-opacity="0.5" stroke-width="4.2" stroke-linecap="round"/>
<line x1="539.6" x2="674.0" y1="141.7" y2="141.7" stroke="#141eeb" stroke-opacity="0.5" stroke-width="4.2" stroke-linecap="round"/>
<line x1="539.6" x2="692.0" y1="144.0" y2="144.0" stroke="#141eeb" stroke-opacity="0.5" stroke-width="4.2" stroke-linecap="round"/>
<line x1="539.6" x2="718.0" y1="146.0" y2="146.0" stroke="#141eeb" stroke-opacity="0.5" stroke-width="4.2" stroke-linecap="round"/>
<line x1="539.6" x2="690.0" y1="148.0" y2="148.0" stroke="#141eeb" stroke-opacity="0.5" stroke-width="4.2" stroke-linecap="round"/>
<line x1="539.6" x2="616.0" y1="151.0" y2="151.0" stroke="#141eeb" stroke-opacity="0.5" stroke-width="4.2" stroke-linecap="round"/>
<line x1="539.6" x2="636.0" y1="154.0" y2="154.0" stroke="#141eeb" stroke-opacity="0.5" stroke-width="4.2" stroke-linecap="round"/>
<line x1="539.6" x2="767.0" y1="157.8" y2="157.8" stroke="#141eeb" stroke-opacity="0.5" stroke-width="4.2" stroke-linecap="round"/>
<line x1="539.6" x2="763.0" y1="160.5" y2="160.5" stroke="#141eeb" stroke-opacity="0.5" stroke-width="4.2" stroke-linecap="round"/>
<line x1="539.6" x2="1027.0" y1="163.8" y2="163.8" stroke="#141eeb" stroke-opacity="0.5" stroke-width="4.2" stroke-linecap="round"/>
<line x1="539.6" x2="713.0" y1="167.2" y2="167.2" stroke="#141eeb" stroke-opacity="0.5" stroke-width="4.2" stroke-linecap="round"/>
<line x1="539.6" x2="754.0" y1="171.0" y2="171.0" stroke="#141eeb" stroke-opacity="0.5" stroke-width="4.2" stroke-linecap="round"/>
<line x1="539.6" x2="754.0" y1="175.0" y2="175.0" stroke="#141eeb" stroke-opacity="0.5" stroke-width="4.2" stroke-linecap="round"/>
<line x1="539.6" x2="879.0" y1="178.7" y2="178.7" stroke="#141eeb" stroke-opacity="0.5" stroke-width="4.2" stroke-linecap="round"/>
<line x1="539.6" x2="834.0" y1="182.0" y2="182.0" stroke="#141eeb" stroke-opacity="0.5" stroke-width="4.2" stroke-linecap="round"/>
<line x1="539.6" x2="948.0" y1="186.6" y2="186.6" stroke="#141eeb" stroke-opacity="0.5" stroke-width="4.2" stroke-linecap="round"/>
<line x1="539.6" x2="713.0" y1="190.0" y2="190.0" stroke="#141eeb" stroke-opacity="0.5" stroke-width="4.2" stroke-linecap="round"/>
<line x1="539.6" x2="638.0" y1="193.6" y2="193.6" stroke="#141eeb" stroke-opacity="0.5" stroke-width="4.2" stroke-linecap="round"/>
<line x1="539.6" x2="726.0" y1="197.0" y2="197.0" stroke="#141eeb" stroke-opacity="0.5" stroke-width="4.2" stroke-linecap="round"/>
<line x1="539.6" x2="746.0" y1="200.0" y2="200.0" stroke="#141eeb" stroke-opacity="0.5" stroke-width="4.2" stroke-linecap="round"/>
<line x1="539.6" x2="772.5" y1="204.4" y2="204.4" stroke="#141eeb" stroke-opacity="0.5" stroke-width="4.2" stroke-linecap="round"/>
<line x1="539.6" x2="743.0" y1="207.8" y2="207.8" stroke="#141eeb" stroke-opacity="0.5" stroke-width="4.2" stroke-linecap="round"/>
<line x1="539.6" x2="812.0" y1="211.3" y2="211.3" stroke="#141eeb" stroke-opacity="0.5" stroke-width="4.2" stroke-linecap="round"/>
<line x1="539.6" x2="672.0" y1="214.5" y2="214.5" stroke="#141eeb" stroke-opacity="0.5" stroke-width="4.2" stroke-linecap="round"/>
<line x1="539.6" x2="713.0" y1="217.0" y2="217.0" stroke="#141eeb" stroke-opacity="0.5" stroke-width="4.2" stroke-linecap="round"/>
<line x1="539.6" x2="627.0" y1="220.0" y2="220.0" stroke="#141eeb" stroke-opacity="0.5" stroke-width="4.2" stroke-linecap="round"/>
<line x1="539.6" x2="677.0" y1="223.0" y2="223.0" stroke="#141eeb" stroke-opacity="0.5" stroke-width="4.2" stroke-linecap="round"/>
<line x1="539.6" x2="897.5" y1="225.3" y2="225.3" stroke="#141eeb" stroke-opacity="0.5" stroke-width="4.2" stroke-linecap="round"/>
<line x1="539.6" x2="644.0" y1="228.7" y2="228.7" stroke="#141eeb" stroke-opacity="0.5" stroke-width="4.2" stroke-linecap="round"/>
<line x1="539.6" x2="756.0" y1="233.0" y2="233.0" stroke="#141eeb" stroke-opacity="0.5" stroke-width="4.2" stroke-linecap="round"/>
<line x1="539.6" x2="754.0" y1="236.0" y2="236.0" stroke="#141eeb" stroke-opacity="0.5" stroke-width="4.2" stroke-linecap="round"/>
<line x1="539.6" x2="694.0" y1="238.0" y2="238.0" stroke="#141eeb" stroke-opacity="0.5" stroke-width="4.2" stroke-linecap="round"/>
<line x1="539.6" x2="662.0" y1="241.0" y2="241.0" stroke="#141eeb" stroke-opacity="0.5" stroke-width="4.2" stroke-linecap="round"/>
<line x1="539.6" x2="650.0" y1="244.0" y2="244.0" stroke="#141eeb" stroke-opacity="0.5" stroke-width="4.2" stroke-linecap="round"/>
<line x1="539.6" x2="733.0" y1="247.0" y2="247.0" stroke="#141eeb" stroke-opacity="0.5" stroke-width="4.2" stroke-linecap="round"/>
<line x1="539.6" x2="692.0" y1="249.6" y2="249.6" stroke="#141eeb" stroke-opacity="0.5" stroke-width="4.2" stroke-linecap="round"/>
<line x1="539.6" x2="687.0" y1="255.5" y2="255.5" stroke="#141eeb" stroke-opacity="0.5" stroke-width="4.2" stroke-linecap="round"/>
<line x1="539.6" x2="642.0" y1="258.5" y2="258.5" stroke="#141eeb" stroke-opacity="0.5" stroke-width="4.2" stroke-linecap="round"/>
<line x1="539.6" x2="797.0" y1="260.5" y2="260.5" stroke="#141eeb" stroke-opacity="0.5" stroke-width="4.2" stroke-linecap="round"/>
<line x1="539.6" x2="636.0" y1="263.0" y2="263.0" stroke="#141eeb" stroke-opacity="0.5" stroke-width="4.2" stroke-linecap="round"/>
<line x1="539.6" x2="694.0" y1="266.0" y2="266.0" stroke="#141eeb" stroke-opacity="0.5" stroke-width="4.2" stroke-linecap="round"/>
<line x1="539.6" x2="683.0" y1="269.0" y2="269.0" stroke="#141eeb" stroke-opacity="0.5" stroke-width="4.2" stroke-linecap="round"/>
<line x1="539.6" x2="649.0" y1="272.0" y2="272.0" stroke="#141eeb" stroke-opacity="0.5" stroke-width="4.2" stroke-linecap="round"/>
<line x1="539.6" x2="787.5" y1="275.7" y2="275.7" stroke="#141eeb" stroke-opacity="0.5" stroke-width="4.2" stroke-linecap="round"/>
<line x1="539.6" x2="746.0" y1="275.7" y2="275.7" stroke="#141eeb" stroke-opacity="0.5" stroke-width="4.2" stroke-linecap="round"/>
<line x1="539.6" x2="668.0" y1="278.7" y2="278.7" stroke="#141eeb" stroke-opacity="0.5" stroke-width="4.2" stroke-linecap="round"/>
<line x1="539.6" x2="791.0" y1="282.0" y2="282.0" stroke="#141eeb" stroke-opacity="0.5" stroke-width="4.2" stroke-linecap="round"/>
<line x1="539.6" x2="606.5" y1="287.0" y2="287.0" stroke="#141eeb" stroke-opacity="0.5" stroke-width="4.2" stroke-linecap="round"/>
<line x1="539.6" x2="669.0" y1="291.0" y2="291.0" stroke="#141eeb" stroke-opacity="0.5" stroke-width="4.2" stroke-linecap="round"/>
<line x1="539.6" x2="644.0" y1="293.6" y2="293.6" stroke="#141eeb" stroke-opacity="0.5" stroke-width="4.2" stroke-linecap="round"/>
<line x1="539.6" x2="669.0" y1="297.0" y2="297.0" stroke="#141eeb" stroke-opacity="0.5" stroke-width="4.2" stroke-linecap="round"/>
<line x1="539.6" x2="655.0" y1="299.0" y2="299.0" stroke="#141eeb" stroke-opacity="0.5" stroke-width="4.2" stroke-linecap="round"/>
<line x1="539.6" x2="620.0" y1="302.0" y2="302.0" stroke="#141eeb" stroke-opacity="0.5" stroke-width="4.2" stroke-linecap="round"/>
<line x1="539.6" x2="835.0" y1="304.8" y2="304.8" stroke="#141eeb" stroke-opacity="0.5" stroke-width="4.2" stroke-linecap="round"/>
<line x1="539.6" x2="815.0" y1="307.8" y2="307.8" stroke="#141eeb" stroke-opacity="0.5" stroke-width="4.2" stroke-linecap="round"/>
<line x1="539.6" x2="638.0" y1="310.5" y2="310.5" stroke="#141eeb" stroke-opacity="0.5" stroke-width="4.2" stroke-linecap="round"/>
<line x1="539.6" x2="812.0" y1="314.5" y2="314.5" stroke="#141eeb" stroke-opacity="0.5" stroke-width="4.2" stroke-linecap="round"/>
<line x1="539.6" x2="608.0" y1="318.0" y2="318.0" stroke="#141eeb" stroke-opacity="0.5" stroke-width="4.2" stroke-linecap="round"/>
<line x1="539.6" x2="881.0" y1="322.0" y2="322.0" stroke="#141eeb" stroke-opacity="0.5" stroke-width="4.2" stroke-linecap="round"/>
<line x1="539.6" x2="757.6" y1="326.0" y2="326.0" stroke="#141eeb" stroke-opacity="0.5" stroke-width="4.2" stroke-linecap="round"/>
<line x1="539.6" x2="799.0" y1="330.0" y2="330.0" stroke="#141eeb" stroke-opacity="0.5" stroke-width="4.2" stroke-linecap="round"/>
<line x1="539.6" x2="707.0" y1="334.6" y2="334.6" stroke="#141eeb" stroke-opacity="0.5" stroke-width="4.2" stroke-linecap="round"/>
<line x1="539.6" x2="772.5" y1="336.0" y2="336.0" stroke="#141eeb" stroke-opacity="0.5" stroke-width="4.2" stroke-linecap="round"/>
<line x1="539.6" x2="838.0" y1="338.0" y2="338.0" stroke="#141eeb" stroke-opacity="0.5" stroke-width="4.2" stroke-linecap="round"/>
<line x1="539.6" x2="675.0" y1="341.7" y2="341.7" stroke="#141eeb" stroke-opacity="0.5" stroke-width="4.2" stroke-linecap="round"/>
<line x1="539.6" x2="901.0" y1="345.4" y2="345.4" stroke="#141eeb" stroke-opacity="0.5" stroke-width="4.2" stroke-linecap="round"/>
<line x1="539.6" x2="808.0" y1="347.0" y2="347.0" stroke="#141eeb" stroke-opacity="0.5" stroke-width="4.2" stroke-linecap="round"/>
<line x1="539.6" x2="593.0" y1="350.7" y2="350.7" stroke="#141eeb" stroke-opacity="0.5" stroke-width="4.2" stroke-linecap="round"/>
<line x1="539.6" x2="748.0" y1="354.4" y2="354.4" stroke="#141eeb" stroke-opacity="0.5" stroke-width="4.2" stroke-linecap="round"/>
<line x1="539.6" x2="631.0" y1="357.0" y2="357.0" stroke="#141eeb" stroke-opacity="0.5" stroke-width="4.2" stroke-linecap="round"/>
<line x1="539.6" x2="855.0" y1="362.0" y2="362.0" stroke="#141eeb" stroke-opacity="0.5" stroke-width="4.2" stroke-linecap="round"/>
<line x1="539.6" x2="722.0" y1="366.0" y2="366.0" stroke="#141eeb" stroke-opacity="0.5" stroke-width="4.2" stroke-linecap="round"/>
<line x1="539.6" x2="746.0" y1="371.0" y2="371.0" stroke="#141eeb" stroke-opacity="0.5" stroke-width="4.2" stroke-linecap="round"/>
<line x1="539.6" x2="634.5" y1="375.0" y2="375.0" stroke="#141eeb" stroke-opacity="0.5" stroke-width="4.2" stroke-linecap="round"/>
<line x1="539.6" x2="875.0" y1="378.7" y2="378.7" stroke="#141eeb" stroke-opacity="0.5" stroke-width="4.2" stroke-linecap="round"/>
<line x1="539.6" x2="817.0" y1="382.0" y2="382.0" stroke="#141eeb" stroke-opacity="0.5" stroke-width="4.2" stroke-linecap="round"/>
<line x1="539.6" x2="687.0" y1="385.0" y2="385.0" stroke="#141eeb" stroke-opacity="0.5" stroke-width="4.2" stroke-linecap="round"/>
<line x1="539.6" x2="726.0" y1="388.0" y2="388.0" stroke="#141eeb" stroke-opacity="0.5" stroke-width="4.2" stroke-linecap="round"/>
<line x1="539.6" x2="640.0" y1="391.0" y2="391.0" stroke="#141eeb" stroke-opacity="0.5" stroke-width="4.2" stroke-linecap="round"/>
<line x1="539.6" x2="668.0" y1="394.0" y2="394.0" stroke="#141eeb" stroke-opacity="0.5" stroke-width="4.2" stroke-linecap="round"/>
<line x1="539.6" x2="1028.0" y1="397.3" y2="397.3" stroke="#141eeb" stroke-opacity="0.5" stroke-width="4.2" stroke-linecap="round"/>
<line x1="539.6" x2="1064.0" y1="398.2" y2="398.2" stroke="#141eeb" stroke-opacity="0.5" stroke-width="4.2" stroke-linecap="round"/>
<line x1="539.6" x2="660.0" y1="400.5" y2="400.5" stroke="#141eeb" stroke-opacity="0.5" stroke-width="4.2" stroke-linecap="round"/>
<line x1="539.6" x2="787.5" y1="404.4" y2="404.4" stroke="#141eeb" stroke-opacity="0.5" stroke-width="4.2" stroke-linecap="round"/>
<line x1="539.6" x2="716.5" y1="406.0" y2="406.0" stroke="#141eeb" stroke-opacity="0.5" stroke-width="4.2" stroke-linecap="round"/>
<line x1="539.6" x2="664.0" y1="407.8" y2="407.8" stroke="#141eeb" stroke-opacity="0.5" stroke-width="4.2" stroke-linecap="round"/>
<line x1="539.6" x2="627.0" y1="410.0" y2="410.0" stroke="#141eeb" stroke-opacity="0.5" stroke-width="4.2" stroke-linecap="round"/>
<line x1="539.6" x2="612.0" y1="413.0" y2="413.0" stroke="#141eeb" stroke-opacity="0.5" stroke-width="4.2" stroke-linecap="round"/>
<line x1="539.6" x2="585.0" y1="416.0" y2="416.0" stroke="#141eeb" stroke-opacity="0.5" stroke-width="4.2" stroke-linecap="round"/>
<line x1="539.6" x2="674.0" y1="420.0" y2="420.0" stroke="#141eeb" stroke-opacity="0.5" stroke-width="4.2" stroke-linecap="round"/>
<line x1="539.6" x2="718.0" y1="424.0" y2="424.0" stroke="#141eeb" stroke-opacity="0.5" stroke-width="4.2" stroke-linecap="round"/>
<line x1="539.6" x2="601.0" y1="427.5" y2="427.5" stroke="#141eeb" stroke-opacity="0.5" stroke-width="4.2" stroke-linecap="round"/>
<line x1="539.6" x2="761.0" y1="432.0" y2="432.0" stroke="#141eeb" stroke-opacity="0.5" stroke-width="4.2" stroke-linecap="round"/>
<line x1="539.6" x2="716.5" y1="435.0" y2="435.0" stroke="#141eeb" stroke-opacity="0.5" stroke-width="4.2" stroke-linecap="round"/>
<line x1="539.6" x2="787.5" y1="438.0" y2="438.0" stroke="#141eeb" stroke-opacity="0.5" stroke-width="4.2" stroke-linecap="round"/>
<line x1="539.6" x2="772.5" y1="438.4" y2="438.4" stroke="#141eeb" stroke-opacity="0.5" stroke-width="4.2" stroke-linecap="round"/>
<line x1="539.6" x2="702.0" y1="441.7" y2="441.7" stroke="#141eeb" stroke-opacity="0.5" stroke-width="4.2" stroke-linecap="round"/>
<line x1="539.6" x2="996.0" y1="445.0" y2="445.0" stroke="#141eeb" stroke-opacity="0.5" stroke-width="4.2" stroke-linecap="round"/>
<line x1="539.6" x2="754.0" y1="448.0" y2="448.0" stroke="#141eeb" stroke-opacity="0.5" stroke-width="4.2" stroke-linecap="round"/>
<line x1="539.6" x2="854.6" y1="451.8" y2="451.8" stroke="#141eeb" stroke-opacity="0.5" stroke-width="4.2" stroke-linecap="round"/>
<line x1="539.6" x2="672.0" y1="454.8" y2="454.8" stroke="#141eeb" stroke-opacity="0.5" stroke-width="4.2" stroke-linecap="round"/>
<line x1="539.6" x2="765.0" y1="457.8" y2="457.8" stroke="#141eeb" stroke-opacity="0.5" stroke-width="4.2" stroke-linecap="round"/>
<line x1="539.6" x2="812.0" y1="461.0" y2="461.0" stroke="#141eeb" stroke-opacity="0.5" stroke-width="4.2" stroke-linecap="round"/>
<line x1="539.6" x2="668.0" y1="465.0" y2="465.0" stroke="#141eeb" stroke-opacity="0.5" stroke-width="4.2" stroke-linecap="round"/>
<line x1="539.6" x2="744.5" y1="469.0" y2="469.0" stroke="#141eeb" stroke-opacity="0.5" stroke-width="4.2" stroke-linecap="round"/>
<line x1="539.6" x2="700.0" y1="471.0" y2="471.0" stroke="#141eeb" stroke-opacity="0.5" stroke-width="4.2" stroke-linecap="round"/>
<line x1="539.6" x2="687.0" y1="474.5" y2="474.5" stroke="#141eeb" stroke-opacity="0.5" stroke-width="4.2" stroke-linecap="round"/>
<line x1="539.6" x2="655.0" y1="477.0" y2="477.0" stroke="#141eeb" stroke-opacity="0.5" stroke-width="4.2" stroke-linecap="round"/>
<line x1="539.6" x2="733.0" y1="480.0" y2="480.0" stroke="#141eeb" stroke-opacity="0.5" stroke-width="4.2" stroke-linecap="round"/>
<line x1="539.6" x2="715.5" y1="483.0" y2="483.0" stroke="#141eeb" stroke-opacity="0.5" stroke-width="4.2" stroke-linecap="round"/>
<line x1="539.6" x2="649.0" y1="486.0" y2="486.0" stroke="#141eeb" stroke-opacity="0.5" stroke-width="4.2" stroke-linecap="round"/>
<line x1="539.6" x2="716.5" y1="488.4" y2="488.4" stroke="#141eeb" stroke-opacity="0.5" stroke-width="4.2" stroke-linecap="round"/>
<line x1="539.6" x2="891.0" y1="490.5" y2="490.5" stroke="#141eeb" stroke-opacity="0.5" stroke-width="4.2" stroke-linecap="round"/>
<line x1="539.6" x2="944.0" y1="490.8" y2="490.8" stroke="#141eeb" stroke-opacity="0.5" stroke-width="4.2" stroke-linecap="round"/>
<path d="M537.5,121 L537.5,466 Q537.8,486 545,491.6 L557,491.6 L557,121 Z" fill="#141eeb" fill-opacity="0.85"/>
<rect x="367" y="128.7" width="19.4" height="354.3" fill="#141eeb" fill-opacity="0.8"/>
</g>

<!-- chromosome bar -->
<text x="535" y="547.2" class="t w">Reference</text>
<text x="50.0" y="564" class="t d">1</text>
<text x="133.8" y="564" class="t d">2</text>
<text x="208.9" y="564" class="t d">3</text>
<text x="275.1" y="564" class="t d">4</text>
<text x="338.4" y="564" class="t d">5</text>
<text x="398.4" y="564" class="t d">6</text>
<text x="454.6" y="564" class="t d">7</text>
<text x="506.5" y="564" class="t d">8</text>
<text x="555.5" y="564" class="t d">9</text>
<text x="602.6" y="564" class="t d">10</text>
<text x="648.6" y="564" class="t d">11</text>
<text x="694.4" y="564" class="t d">12</text>
<text x="736.7" y="564" class="t d">13</text>
<text x="774.6" y="564" class="t d">14</text>
<text x="810.3" y="564" class="t d">15</text>
<text x="843.1" y="564" class="t d">16</text>
<text x="872.3" y="564" class="t d">17</text>
<text x="899.4" y="564" class="t d">18</text>
<text x="922.8" y="564" class="t d">19</text>
<text x="943.6" y="564" class="t d">20</text>
<text x="962.5" y="564" class="t d">21</text>
<text x="979.4" y="564" class="t d">22</text>
<text x="1014.6" y="564" class="t d">X</text>
<text x="1051.1" y="564" class="t d">Y</text>
<rect x="7.6" y="573.3" width="84.8" height="10.4" fill="#E41A1C" stroke="#000" stroke-width="1.3"/>
<rect x="92.4" y="573.3" width="82.8" height="10.4" fill="#A73C52" stroke="#000" stroke-width="1.3"/>
<rect x="175.2" y="573.3" width="67.4" height="10.4" fill="#6B5F88" stroke="#000" stroke-width="1.3"/>
<rect x="242.6" y="573.3" width="65.1" height="10.4" fill="#3780B3" stroke="#000" stroke-width="1.3"/>
<rect x="307.7" y="573.3" width="61.6" height="10.4" fill="#3F918C" stroke="#000" stroke-width="1.3"/>
<rect x="369.2" y="573.3" width="58.2" height="10.4" fill="#47A266" stroke="#000" stroke-width="1.3"/>
<rect x="427.5" y="573.3" width="54.2" height="10.4" fill="#53A651" stroke="#000" stroke-width="1.3"/>
<rect x="481.6" y="573.3" width="49.8" height="10.4" fill="#6D8470" stroke="#000" stroke-width="1.3"/>
<rect x="531.4" y="573.3" width="48.1" height="10.4" fill="#87638F" stroke="#000" stroke-width="1.3"/>
<rect x="579.5" y="573.3" width="46.1" height="10.4" fill="#A5548D" stroke="#000" stroke-width="1.3"/>
<rect x="625.6" y="573.3" width="45.9" height="10.4" fill="#C96555" stroke="#000" stroke-width="1.3"/>
<rect x="671.6" y="573.3" width="45.6" height="10.4" fill="#ED761C" stroke="#000" stroke-width="1.3"/>
<rect x="717.1" y="573.3" width="39.2" height="10.4" fill="#FF9508" stroke="#000" stroke-width="1.3"/>
<rect x="756.3" y="573.3" width="36.5" height="10.4" fill="#FFC11A" stroke="#000" stroke-width="1.3"/>
<rect x="792.9" y="573.3" width="34.9" height="10.4" fill="#FFEE34" stroke="#000" stroke-width="1.3"/>
<rect x="827.8" y="573.3" width="30.8" height="10.4" fill="#EBDA30" stroke="#000" stroke-width="1.3"/>
<rect x="858.5" y="573.3" width="27.6" height="10.4" fill="#CC9F2C" stroke="#000" stroke-width="1.3"/>
<rect x="886.2" y="573.3" width="26.6" height="10.4" fill="#AD6428" stroke="#000" stroke-width="1.3"/>
<rect x="912.7" y="573.3" width="20.1" height="10.4" fill="#BB614F" stroke="#000" stroke-width="1.3"/>
<rect x="932.9" y="573.3" width="21.5" height="10.4" fill="#D77083" stroke="#000" stroke-width="1.3"/>
<rect x="954.3" y="573.3" width="16.4" height="10.4" fill="#F37FB8" stroke="#000" stroke-width="1.3"/>
<rect x="970.7" y="573.3" width="17.5" height="10.4" fill="#DA88B3" stroke="#000" stroke-width="1.3"/>
<rect x="988.1" y="573.3" width="52.8" height="10.4" fill="#C96555" stroke="#000" stroke-width="1.3"/>
<rect x="1041.0" y="573.3" width="20.2" height="10.4" fill="#ED761C" stroke="#000" stroke-width="1.3"/>
<rect x="985.6" y="573.3" width="3.2" height="10.4" fill="#000"/>

<!-- lower zoom ribbons -->
<polygon points="988,584 8,634.3 384.5,634.3" fill="#c96555" stroke="#000" stroke-width="1"/>
<polygon points="988,584 384.5,634.3 1061,634.3 1000.4,584" fill="#c96555" stroke="#000" stroke-width="1"/>
<rect x="8" y="634.3" width="376.5" height="10.2" fill="#c96555" stroke="#000" stroke-width="1.4"/>
<rect x="384.5" y="634.3" width="676.5" height="10.2" fill="#c96555" stroke="#000" stroke-width="1.4"/>

<!-- alignments to read -->
<polygon points="262,645 384,645 559,809 41,809" fill="#e4b2aa" stroke="#c96555" stroke-width="1.2"/>
<polygon points="540,645 652,645 1042,809 559.5,809" fill="#e4b2aa" stroke="#c96555" stroke-width="1.2"/>

<!-- read bar -->
<rect x="8" y="809.6" width="1053" height="10.6" fill="#000"/>
<text x="8" y="842" class="t d" text-anchor="start">0</text>
<text x="171" y="842" class="t d" text-anchor="middle">500</text>
<text x="334" y="842" class="t d" text-anchor="middle">1k</text>
<text x="496.5" y="842" class="t d" text-anchor="middle">1.5k</text>
<text x="658.5" y="842" class="t d" text-anchor="middle">2k</text>
<text x="821" y="842" class="t d" text-anchor="middle">2.5k</text>
<text x="984" y="842" class="t d" text-anchor="middle">3k</text>
<text x="534.5" y="855" class="t w">Read / Query</text>

<!-- highlight -->
<rect x="383" y="98" width="152.4" height="562.5" fill="#ffff00" fill-opacity="0.35"/>
<polygon points="382,647 396.5,660.8 382,661.4" fill="#f4b240" fill-opacity="0.75"/>
<g fill="none" stroke="#e6b836" stroke-width="1.7" stroke-dasharray="9.7 4.5">
<line x1="382" y1="98" x2="536.3" y2="98"/>
<line x1="383" y1="660.5" x2="536.3" y2="660.5" stroke-dashoffset="12"/>
<line x1="383" y1="98" x2="383" y2="660.5" stroke-dashoffset="7.1"/>
<line x1="535.4" y1="98" x2="535.4" y2="660.5"/>
</g>
<clipPath id="cl"><rect x="380" y="128.6" width="6" height="354.4"/></clipPath>
<clipPath id="cr"><rect x="533" y="122" width="5" height="367"/></clipPath>
<line x1="383" y1="98" x2="383" y2="660.5" stroke="#cfcff8" stroke-width="1.9" stroke-dasharray="9.7 4.5" stroke-dashoffset="7.1" clip-path="url(#cl)"/>
<line x1="535.4" y1="98" x2="535.4" y2="660.5" stroke="#f4e0a4" stroke-width="1.9" stroke-dasharray="9.7 4.5" clip-path="url(#cr)"/>
<polygon points="386,115.6 534,115.6 534,127 529.5,127 514,126 491,124.2 442,123.7 432,122.2 415,120.6 400,119 386.5,118" fill="#6074b2"/>
<rect x="544.2" y="115" width="5.6" height="6.6" fill="#0a0a5a"/>

<!-- annotation -->
<text x="223" y="548.6" style="font-family:'Liberation Sans',sans-serif;font-size:25px;fill:#000">26K DEL</text>
<line x1="323" x2="370" y1="540" y2="540" stroke="#eab92f" stroke-width="3.6"/>
<polygon points="367.5,533.6 381,540 367.5,546.4" fill="#eab92f"/>
</svg>
</body></html>
